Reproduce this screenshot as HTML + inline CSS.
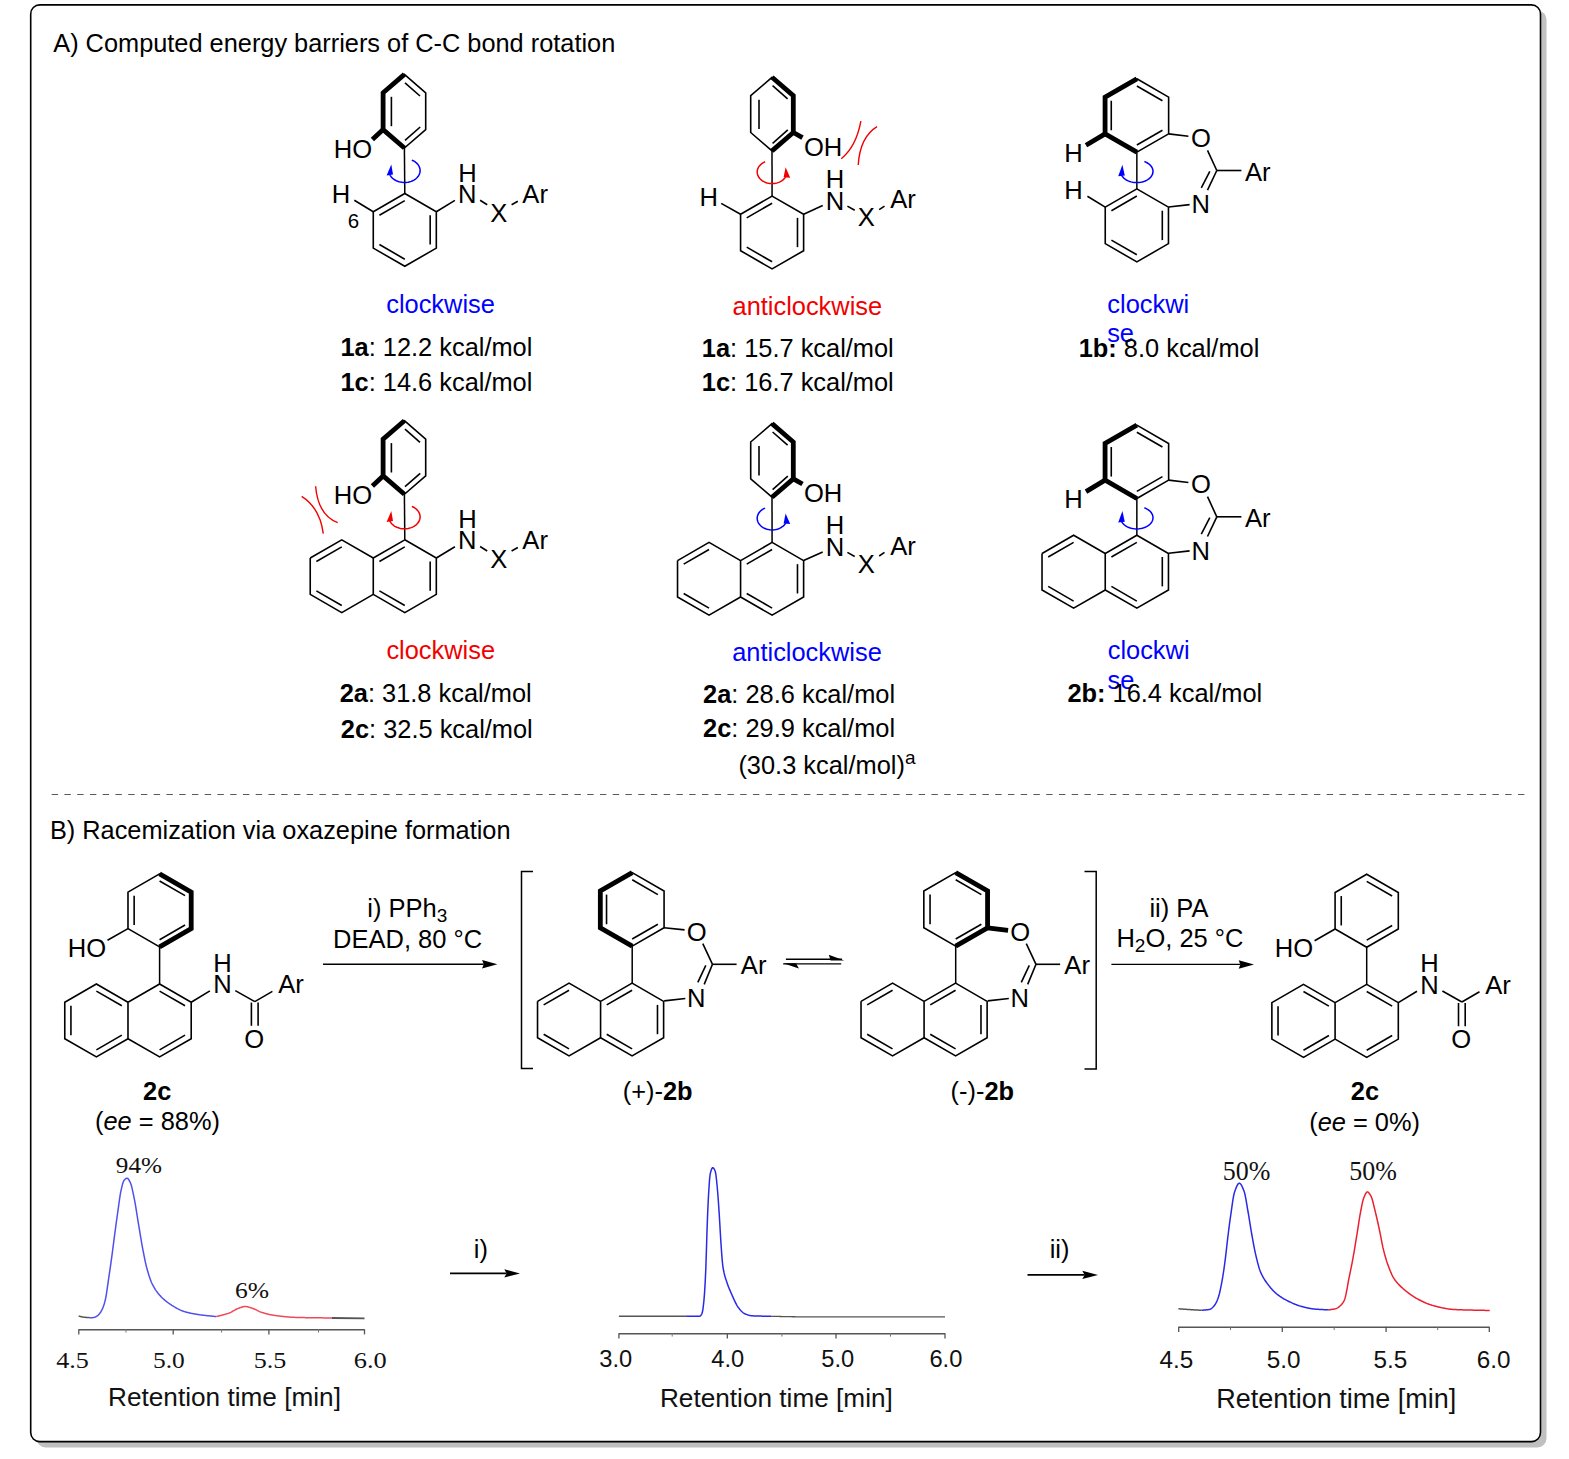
<!DOCTYPE html>
<html><head><meta charset="utf-8"><title>Figure</title>
<style>
html,body{margin:0;padding:0;background:#fff;}
body{width:1569px;height:1459px;overflow:hidden;}
svg{position:absolute;left:0;top:0;display:block;}
text{font-family:"Liberation Sans",sans-serif;}
</style></head><body>
<svg width="1569" height="1459" viewBox="0 0 1569 1459">
<rect x="36.5" y="10.5" width="1510" height="1437" rx="9" ry="9" fill="#c0c0c0"/>
<rect x="30.7" y="4.9" width="1509.8" height="1436.7" rx="9" ry="9" fill="#fff" stroke="#000" stroke-width="1.6"/>
<text x="53.24" y="52.1" font-size="25.35" fill="#000" text-anchor="start">A) Computed energy barriers of C-C bond rotation</text>
<text x="49.91" y="839.3" font-size="25.35" fill="#000" text-anchor="start">B) Racemization via oxazepine formation</text>
<line x1="51.7" y1="794.5" x2="1527" y2="794.5" stroke="#5a5a5a" stroke-width="1" stroke-dasharray="6.4 6.35"/>
<path d="M404.4 74.4 L425.7 92.8 L425.7 129.6 L404.4 148 L383.1 129.6 L383.1 92.8 Z" fill="none" stroke="#000" stroke-width="1.6" stroke-linejoin="miter" stroke-linecap="butt" stroke-miterlimit="10"/>
<line x1="391.4" y1="96.8" x2="391.4" y2="126.2" stroke="#000" stroke-width="1.6" stroke-linecap="butt"/>
<line x1="405" y1="82.8" x2="420" y2="96" stroke="#000" stroke-width="1.6" stroke-linecap="butt"/>
<line x1="405" y1="140.4" x2="420.2" y2="127" stroke="#000" stroke-width="1.6" stroke-linecap="butt"/>
<path d="M404.4 74.4 L383.1 92.8 L383.1 129.6 L404.4 148" fill="none" stroke="#000" stroke-width="4.8" stroke-linejoin="miter" stroke-linecap="butt" stroke-miterlimit="10"/>
<path d="M383.1 129.6 L372.4 139.6" fill="none" stroke="#000" stroke-width="4.8" stroke-linejoin="miter" stroke-linecap="butt" stroke-miterlimit="10"/>
<text x="333.69" y="158" font-size="25.6" fill="#000" text-anchor="start">HO</text>
<line x1="404.4" y1="148" x2="404.8" y2="193.4" stroke="#000" stroke-width="1.5" stroke-linecap="butt"/>
<path d="M404.8 193.5 L436.32 211.7 L436.32 248.1 L404.8 266.3 L373.28 248.1 L373.28 211.7 Z" fill="none" stroke="#000" stroke-width="1.6" stroke-linejoin="miter" stroke-linecap="butt" stroke-miterlimit="10"/>
<line x1="379.42" y1="215.25" x2="404.8" y2="200.6" stroke="#000" stroke-width="1.6" stroke-linecap="butt"/>
<line x1="430.18" y1="215.25" x2="430.18" y2="244.55" stroke="#000" stroke-width="1.6" stroke-linecap="butt"/>
<line x1="379.42" y1="244.55" x2="404.8" y2="259.2" stroke="#000" stroke-width="1.6" stroke-linecap="butt"/>
<line x1="373.28" y1="211.7" x2="354.3" y2="200.3" stroke="#000" stroke-width="1.6" stroke-linecap="butt"/>
<text x="331.85" y="203.4" font-size="25.6" fill="#000" text-anchor="start">H</text>
<text x="347.78" y="228" font-size="20.5" fill="#000" text-anchor="start">6</text>
<line x1="436.32" y1="211.7" x2="454.9" y2="200.4" stroke="#000" stroke-width="1.6" stroke-linecap="butt"/>
<text x="458.05" y="202.9" font-size="25.6" fill="#000" text-anchor="start">N</text>
<text x="458.15" y="181.7" font-size="25.6" fill="#000" text-anchor="start">H</text>
<line x1="480.1" y1="200.2" x2="487.2" y2="204.7" stroke="#000" stroke-width="1.6" stroke-linecap="butt"/>
<text x="490.16" y="221.7" font-size="25.6" fill="#000" text-anchor="start">X</text>
<line x1="511.6" y1="204.7" x2="517.8" y2="201.2" stroke="#000" stroke-width="1.6" stroke-linecap="butt"/>
<text x="522.34" y="203" font-size="25.6" fill="#000" text-anchor="start">Ar</text>
<path d="M411.82 160.09 L413.17 160.71 L414.42 161.42 L415.58 162.22 L416.62 163.11 L417.55 164.08 L418.34 165.11 L418.99 166.19 L419.5 167.32 L419.85 168.48 L420.05 169.67 L420.1 170.86 L419.98 172.05 L419.72 173.23 L419.29 174.38 L418.72 175.49 L418.01 176.55 L417.16 177.55 L416.18 178.49 L415.09 179.34 L413.89 180.1 L412.59 180.77 L411.22 181.34 L409.77 181.8 L408.27 182.15 L406.74 182.38 L405.18 182.49 L403.62 182.48 L402.06 182.35 L400.53 182.11 L399.04 181.75 L397.6 181.27 L396.23 180.69 L394.95 180.01 L393.76 179.23 L392.68 178.37 L391.72 177.43 L390.89 176.41 L390.19 175.35 L389.64 174.23 L389.24 173.07" fill="none" stroke="#0000ff" stroke-width="1.5" stroke-linejoin="round" stroke-linecap="butt" stroke-miterlimit="10"/>
<path d="M391.3 164.6 L386.6 175.6 L393 174.6 Z" fill="#0000ff" stroke="none"/>
<path d="M772 77.3 L793.3 95.7 L793.3 132.5 L772 150.9 L750.7 132.5 L750.7 95.7 Z" fill="none" stroke="#000" stroke-width="1.6" stroke-linejoin="miter" stroke-linecap="butt" stroke-miterlimit="10"/>
<line x1="759" y1="99.7" x2="759" y2="129.1" stroke="#000" stroke-width="1.6" stroke-linecap="butt"/>
<line x1="772.6" y1="85.7" x2="787.6" y2="98.9" stroke="#000" stroke-width="1.6" stroke-linecap="butt"/>
<line x1="772.6" y1="143.3" x2="787.8" y2="129.9" stroke="#000" stroke-width="1.6" stroke-linecap="butt"/>
<path d="M772 77.3 L793.3 95.7 L793.3 132.5 L772 150.9" fill="none" stroke="#000" stroke-width="4.8" stroke-linejoin="miter" stroke-linecap="butt" stroke-miterlimit="10"/>
<path d="M793.3 132.5 L802.5 137.7" fill="none" stroke="#000" stroke-width="4.8" stroke-linejoin="miter" stroke-linecap="butt" stroke-miterlimit="10"/>
<text x="803.88" y="155.6" font-size="25.6" fill="#000" text-anchor="start">OH</text>
<line x1="772" y1="150.9" x2="772.1" y2="196.2" stroke="#000" stroke-width="1.5" stroke-linecap="butt"/>
<path d="M772.1 196.1 L803.62 214.3 L803.62 250.7 L772.1 268.9 L740.58 250.7 L740.58 214.3 Z" fill="none" stroke="#000" stroke-width="1.6" stroke-linejoin="miter" stroke-linecap="butt" stroke-miterlimit="10"/>
<line x1="746.72" y1="217.85" x2="772.1" y2="203.2" stroke="#000" stroke-width="1.6" stroke-linecap="butt"/>
<line x1="797.48" y1="217.85" x2="797.48" y2="247.15" stroke="#000" stroke-width="1.6" stroke-linecap="butt"/>
<line x1="746.72" y1="247.15" x2="772.1" y2="261.8" stroke="#000" stroke-width="1.6" stroke-linecap="butt"/>
<line x1="740.58" y1="214.3" x2="721.2" y2="203.4" stroke="#000" stroke-width="1.6" stroke-linecap="butt"/>
<text x="699.45" y="205.8" font-size="25.6" fill="#000" text-anchor="start">H</text>
<line x1="803.62" y1="214.3" x2="822.7" y2="205.6" stroke="#000" stroke-width="1.6" stroke-linecap="butt"/>
<text x="825.65" y="209.7" font-size="25.6" fill="#000" text-anchor="start">N</text>
<text x="825.75" y="188" font-size="25.6" fill="#000" text-anchor="start">H</text>
<line x1="847.4" y1="206.1" x2="854.7" y2="210.2" stroke="#000" stroke-width="1.6" stroke-linecap="butt"/>
<text x="857.76" y="226.2" font-size="25.6" fill="#000" text-anchor="start">X</text>
<line x1="879.2" y1="209.7" x2="884.5" y2="206.1" stroke="#000" stroke-width="1.6" stroke-linecap="butt"/>
<text x="890.14" y="208.2" font-size="25.6" fill="#000" text-anchor="start">Ar</text>
<path d="M765.1 161.76 L763.82 162.35 L762.62 163.05 L761.52 163.83 L760.52 164.7 L759.64 165.64 L758.88 166.64 L758.26 167.7 L757.78 168.8 L757.44 169.94 L757.25 171.09 L757.2 172.25 L757.31 173.41 L757.57 174.56 L757.97 175.68 L758.51 176.76 L759.2 177.8 L760.01 178.78 L760.94 179.69 L761.99 180.52 L763.13 181.26 L764.37 181.92 L765.69 182.47 L767.07 182.92 L768.5 183.26 L769.96 183.48 L771.45 183.59 L772.94 183.58 L774.43 183.46 L775.89 183.22 L777.32 182.87 L778.69 182.4 L780 181.84 L781.22 181.17 L782.36 180.41 L783.39 179.57 L784.31 178.65 L785.1 177.67 L785.76 176.63 L786.29 175.54 L786.67 174.41" fill="none" stroke="#f20000" stroke-width="1.5" stroke-linejoin="round" stroke-linecap="butt" stroke-miterlimit="10"/>
<path d="M785.6 167.2 L783.6 177.2 L790.2 177.8 Z" fill="#f20000" stroke="none"/>
<path d="M841.3 158.7 Q856 147 860.9 121.2" fill="none" stroke="#f20000" stroke-width="1.4"/>
<path d="M858.2 165 Q860 137 877 126.6" fill="none" stroke="#f20000" stroke-width="1.4"/>
<path d="M1136.85 78.8 L1168.63 97.15 L1168.63 133.85 L1136.85 152.2 L1105.07 133.85 L1105.07 97.15 Z" fill="none" stroke="#000" stroke-width="1.6" stroke-linejoin="miter" stroke-linecap="butt" stroke-miterlimit="10"/>
<line x1="1111.26" y1="100.73" x2="1111.26" y2="130.27" stroke="#000" stroke-width="1.6" stroke-linecap="butt"/>
<line x1="1136.85" y1="85.96" x2="1162.44" y2="100.73" stroke="#000" stroke-width="1.6" stroke-linecap="butt"/>
<line x1="1162.44" y1="130.27" x2="1136.85" y2="145.04" stroke="#000" stroke-width="1.6" stroke-linecap="butt"/>
<path d="M1136.85 78.8 L1105.07 97.15 L1105.07 133.85 L1136.85 152.2" fill="none" stroke="#000" stroke-width="4.8" stroke-linejoin="miter" stroke-linecap="butt" stroke-miterlimit="10"/>
<path d="M1105.07 133.85 L1086 145.3" fill="none" stroke="#000" stroke-width="4.8" stroke-linejoin="miter" stroke-linecap="butt" stroke-miterlimit="10"/>
<text x="1064.15" y="162" font-size="25.6" fill="#000" text-anchor="start">H</text>
<line x1="1168.63" y1="133.85" x2="1188.4" y2="136.2" stroke="#000" stroke-width="1.6" stroke-linecap="butt"/>
<text x="1190.95" y="146.9" font-size="25.6" fill="#000" text-anchor="start">O</text>
<line x1="1207.5" y1="150.3" x2="1216.8" y2="170.5" stroke="#000" stroke-width="1.6" stroke-linecap="butt"/>
<line x1="1216.8" y1="170.5" x2="1241.4" y2="170.5" stroke="#000" stroke-width="1.6" stroke-linecap="butt"/>
<text x="1245.04" y="180.7" font-size="25.6" fill="#000" text-anchor="start">Ar</text>
<line x1="1216.8" y1="170.5" x2="1207.5" y2="190.2" stroke="#000" stroke-width="1.6" stroke-linecap="butt"/>
<line x1="1209.8" y1="171.4" x2="1201.3" y2="187.9" stroke="#000" stroke-width="1.6" stroke-linecap="butt"/>
<text x="1191.45" y="213.2" font-size="25.6" fill="#000" text-anchor="start">N</text>
<line x1="1189.6" y1="204.6" x2="1168.6" y2="207" stroke="#000" stroke-width="1.6" stroke-linecap="butt"/>
<line x1="1136.85" y1="152.2" x2="1136.85" y2="188.9" stroke="#000" stroke-width="1.5" stroke-linecap="butt"/>
<path d="M1136.85 188.9 L1168.46 207.15 L1168.46 243.65 L1136.85 261.9 L1105.24 243.65 L1105.24 207.15 Z" fill="none" stroke="#000" stroke-width="1.6" stroke-linejoin="miter" stroke-linecap="butt" stroke-miterlimit="10"/>
<line x1="1111.4" y1="210.71" x2="1136.85" y2="196.02" stroke="#000" stroke-width="1.6" stroke-linecap="butt"/>
<line x1="1162.3" y1="210.71" x2="1162.3" y2="240.09" stroke="#000" stroke-width="1.6" stroke-linecap="butt"/>
<line x1="1111.4" y1="240.09" x2="1136.85" y2="254.78" stroke="#000" stroke-width="1.6" stroke-linecap="butt"/>
<line x1="1105.24" y1="207.15" x2="1087.4" y2="196.2" stroke="#000" stroke-width="1.6" stroke-linecap="butt"/>
<text x="1064.25" y="198.6" font-size="25.6" fill="#000" text-anchor="start">H</text>
<path d="M1144.41 161.51 L1145.8 162.09 L1147.1 162.76 L1148.31 163.52 L1149.39 164.35 L1150.35 165.26 L1151.17 166.23 L1151.85 167.25 L1152.37 168.31 L1152.74 169.41 L1152.95 170.52 L1153 171.64 L1152.88 172.76 L1152.6 173.87 L1152.16 174.95 L1151.57 176 L1150.83 177 L1149.95 177.94 L1148.93 178.82 L1147.8 179.62 L1146.55 180.34 L1145.2 180.98 L1143.77 181.51 L1142.27 181.94 L1140.72 182.27 L1139.12 182.48 L1137.51 182.59 L1135.88 182.58 L1134.27 182.46 L1132.68 182.23 L1131.13 181.89 L1129.63 181.44 L1128.22 180.9 L1126.88 180.26 L1125.65 179.52 L1124.53 178.71 L1123.53 177.82 L1122.67 176.87 L1121.94 175.87 L1121.37 174.81 L1120.95 173.73" fill="none" stroke="#0000ff" stroke-width="1.5" stroke-linejoin="round" stroke-linecap="butt" stroke-miterlimit="10"/>
<path d="M1122.4 164.8 L1118.2 176.2 L1124.8 175.4 Z" fill="#0000ff" stroke="none"/>
<path d="M404.4 420.7 L425.7 439.1 L425.7 475.9 L404.4 494.3 L383.1 475.9 L383.1 439.1 Z" fill="none" stroke="#000" stroke-width="1.6" stroke-linejoin="miter" stroke-linecap="butt" stroke-miterlimit="10"/>
<line x1="391.4" y1="443.1" x2="391.4" y2="472.5" stroke="#000" stroke-width="1.6" stroke-linecap="butt"/>
<line x1="405" y1="429.1" x2="420" y2="442.3" stroke="#000" stroke-width="1.6" stroke-linecap="butt"/>
<line x1="405" y1="486.7" x2="420.2" y2="473.3" stroke="#000" stroke-width="1.6" stroke-linecap="butt"/>
<path d="M404.4 420.7 L383.1 439.1 L383.1 475.9 L404.4 494.3" fill="none" stroke="#000" stroke-width="4.8" stroke-linejoin="miter" stroke-linecap="butt" stroke-miterlimit="10"/>
<path d="M383.1 475.9 L372.4 485.9" fill="none" stroke="#000" stroke-width="4.8" stroke-linejoin="miter" stroke-linecap="butt" stroke-miterlimit="10"/>
<text x="333.69" y="504.3" font-size="25.6" fill="#000" text-anchor="start">HO</text>
<line x1="404.4" y1="494.3" x2="404.8" y2="539.7" stroke="#000" stroke-width="1.5" stroke-linecap="butt"/>
<path d="M404.8 539.8 L436.32 558 L436.32 594.4 L404.8 612.6 L373.28 594.4 L373.28 558 Z" fill="none" stroke="#000" stroke-width="1.6" stroke-linejoin="miter" stroke-linecap="butt" stroke-miterlimit="10"/>
<line x1="379.42" y1="561.55" x2="404.8" y2="546.9" stroke="#000" stroke-width="1.6" stroke-linecap="butt"/>
<line x1="430.18" y1="561.55" x2="430.18" y2="590.85" stroke="#000" stroke-width="1.6" stroke-linecap="butt"/>
<line x1="379.42" y1="590.85" x2="404.8" y2="605.5" stroke="#000" stroke-width="1.6" stroke-linecap="butt"/>
<path d="M310.23 558 L341.75 539.8 L373.28 558" fill="none" stroke="#000" stroke-width="1.6" stroke-linejoin="miter" stroke-linecap="butt" stroke-miterlimit="10"/>
<path d="M373.28 594.4 L341.75 612.6 L310.23 594.4 L310.23 558" fill="none" stroke="#000" stroke-width="1.6" stroke-linejoin="miter" stroke-linecap="butt" stroke-miterlimit="10"/>
<line x1="316.38" y1="561.55" x2="341.75" y2="546.9" stroke="#000" stroke-width="1.6" stroke-linecap="butt"/>
<line x1="316.38" y1="590.85" x2="341.75" y2="605.5" stroke="#000" stroke-width="1.6" stroke-linecap="butt"/>
<line x1="436.32" y1="558" x2="454.9" y2="546.7" stroke="#000" stroke-width="1.6" stroke-linecap="butt"/>
<text x="458.05" y="549.2" font-size="25.6" fill="#000" text-anchor="start">N</text>
<text x="458.15" y="528" font-size="25.6" fill="#000" text-anchor="start">H</text>
<line x1="480.1" y1="546.5" x2="487.2" y2="551" stroke="#000" stroke-width="1.6" stroke-linecap="butt"/>
<text x="490.16" y="568" font-size="25.6" fill="#000" text-anchor="start">X</text>
<line x1="511.6" y1="551" x2="517.8" y2="547.5" stroke="#000" stroke-width="1.6" stroke-linecap="butt"/>
<text x="522.34" y="549.3" font-size="25.6" fill="#000" text-anchor="start">Ar</text>
<path d="M411.82 506.39 L413.17 507.01 L414.42 507.72 L415.58 508.52 L416.62 509.41 L417.55 510.38 L418.34 511.41 L418.99 512.49 L419.5 513.62 L419.85 514.78 L420.05 515.97 L420.1 517.16 L419.98 518.35 L419.72 519.53 L419.29 520.68 L418.72 521.79 L418.01 522.85 L417.16 523.85 L416.18 524.79 L415.09 525.64 L413.89 526.4 L412.59 527.07 L411.22 527.64 L409.77 528.1 L408.27 528.45 L406.74 528.68 L405.18 528.79 L403.62 528.78 L402.06 528.65 L400.53 528.41 L399.04 528.05 L397.6 527.57 L396.23 526.99 L394.95 526.31 L393.76 525.53 L392.68 524.67 L391.72 523.73 L390.89 522.71 L390.19 521.65 L389.64 520.53 L389.24 519.37" fill="none" stroke="#f20000" stroke-width="1.5" stroke-linejoin="round" stroke-linecap="butt" stroke-miterlimit="10"/>
<path d="M391.3 510.9 L386.6 521.9 L393 520.9 Z" fill="#f20000" stroke="none"/>
<path d="M301.7 496.3 Q320 508 323.3 533.7" fill="none" stroke="#f20000" stroke-width="1.4"/>
<path d="M315.6 486.2 Q318 515 337.7 522.7" fill="none" stroke="#f20000" stroke-width="1.4"/>
<path d="M772 423.6 L793.3 442 L793.3 478.8 L772 497.2 L750.7 478.8 L750.7 442 Z" fill="none" stroke="#000" stroke-width="1.6" stroke-linejoin="miter" stroke-linecap="butt" stroke-miterlimit="10"/>
<line x1="759" y1="446" x2="759" y2="475.4" stroke="#000" stroke-width="1.6" stroke-linecap="butt"/>
<line x1="772.6" y1="432" x2="787.6" y2="445.2" stroke="#000" stroke-width="1.6" stroke-linecap="butt"/>
<line x1="772.6" y1="489.6" x2="787.8" y2="476.2" stroke="#000" stroke-width="1.6" stroke-linecap="butt"/>
<path d="M772 423.6 L793.3 442 L793.3 478.8 L772 497.2" fill="none" stroke="#000" stroke-width="4.8" stroke-linejoin="miter" stroke-linecap="butt" stroke-miterlimit="10"/>
<path d="M793.3 478.8 L802.5 484" fill="none" stroke="#000" stroke-width="4.8" stroke-linejoin="miter" stroke-linecap="butt" stroke-miterlimit="10"/>
<text x="803.88" y="501.9" font-size="25.6" fill="#000" text-anchor="start">OH</text>
<line x1="772" y1="497.2" x2="772.1" y2="542.5" stroke="#000" stroke-width="1.5" stroke-linecap="butt"/>
<path d="M772.1 542.4 L803.62 560.6 L803.62 597 L772.1 615.2 L740.58 597 L740.58 560.6 Z" fill="none" stroke="#000" stroke-width="1.6" stroke-linejoin="miter" stroke-linecap="butt" stroke-miterlimit="10"/>
<line x1="746.72" y1="564.15" x2="772.1" y2="549.5" stroke="#000" stroke-width="1.6" stroke-linecap="butt"/>
<line x1="797.48" y1="564.15" x2="797.48" y2="593.45" stroke="#000" stroke-width="1.6" stroke-linecap="butt"/>
<line x1="746.72" y1="593.45" x2="772.1" y2="608.1" stroke="#000" stroke-width="1.6" stroke-linecap="butt"/>
<path d="M677.53 560.6 L709.05 542.4 L740.58 560.6" fill="none" stroke="#000" stroke-width="1.6" stroke-linejoin="miter" stroke-linecap="butt" stroke-miterlimit="10"/>
<path d="M740.58 597 L709.05 615.2 L677.53 597 L677.53 560.6" fill="none" stroke="#000" stroke-width="1.6" stroke-linejoin="miter" stroke-linecap="butt" stroke-miterlimit="10"/>
<line x1="683.68" y1="564.15" x2="709.05" y2="549.5" stroke="#000" stroke-width="1.6" stroke-linecap="butt"/>
<line x1="683.68" y1="593.45" x2="709.05" y2="608.1" stroke="#000" stroke-width="1.6" stroke-linecap="butt"/>
<line x1="803.62" y1="560.6" x2="822.7" y2="551.9" stroke="#000" stroke-width="1.6" stroke-linecap="butt"/>
<text x="825.65" y="556" font-size="25.6" fill="#000" text-anchor="start">N</text>
<text x="825.75" y="534.3" font-size="25.6" fill="#000" text-anchor="start">H</text>
<line x1="847.4" y1="552.4" x2="854.7" y2="556.5" stroke="#000" stroke-width="1.6" stroke-linecap="butt"/>
<text x="857.76" y="572.5" font-size="25.6" fill="#000" text-anchor="start">X</text>
<line x1="879.2" y1="556" x2="884.5" y2="552.4" stroke="#000" stroke-width="1.6" stroke-linecap="butt"/>
<text x="890.14" y="554.5" font-size="25.6" fill="#000" text-anchor="start">Ar</text>
<path d="M765.1 508.06 L763.82 508.65 L762.62 509.35 L761.52 510.13 L760.52 511 L759.64 511.94 L758.88 512.94 L758.26 514 L757.78 515.1 L757.44 516.24 L757.25 517.39 L757.2 518.55 L757.31 519.71 L757.57 520.86 L757.97 521.98 L758.51 523.06 L759.2 524.1 L760.01 525.08 L760.94 525.99 L761.99 526.82 L763.13 527.56 L764.37 528.22 L765.69 528.77 L767.07 529.22 L768.5 529.56 L769.96 529.78 L771.45 529.89 L772.94 529.88 L774.43 529.76 L775.89 529.52 L777.32 529.17 L778.69 528.7 L780 528.14 L781.22 527.47 L782.36 526.71 L783.39 525.87 L784.31 524.95 L785.1 523.97 L785.76 522.93 L786.29 521.84 L786.67 520.71" fill="none" stroke="#0000ff" stroke-width="1.5" stroke-linejoin="round" stroke-linecap="butt" stroke-miterlimit="10"/>
<path d="M785.6 513.5 L783.6 523.5 L790.2 524.1 Z" fill="#0000ff" stroke="none"/>
<path d="M1136.85 425.1 L1168.63 443.45 L1168.63 480.15 L1136.85 498.5 L1105.07 480.15 L1105.07 443.45 Z" fill="none" stroke="#000" stroke-width="1.6" stroke-linejoin="miter" stroke-linecap="butt" stroke-miterlimit="10"/>
<line x1="1111.26" y1="447.03" x2="1111.26" y2="476.57" stroke="#000" stroke-width="1.6" stroke-linecap="butt"/>
<line x1="1136.85" y1="432.26" x2="1162.44" y2="447.03" stroke="#000" stroke-width="1.6" stroke-linecap="butt"/>
<line x1="1162.44" y1="476.57" x2="1136.85" y2="491.34" stroke="#000" stroke-width="1.6" stroke-linecap="butt"/>
<path d="M1136.85 425.1 L1105.07 443.45 L1105.07 480.15 L1136.85 498.5" fill="none" stroke="#000" stroke-width="4.8" stroke-linejoin="miter" stroke-linecap="butt" stroke-miterlimit="10"/>
<path d="M1105.07 480.15 L1086 491.6" fill="none" stroke="#000" stroke-width="4.8" stroke-linejoin="miter" stroke-linecap="butt" stroke-miterlimit="10"/>
<text x="1064.15" y="508.3" font-size="25.6" fill="#000" text-anchor="start">H</text>
<line x1="1168.63" y1="480.15" x2="1188.4" y2="482.5" stroke="#000" stroke-width="1.6" stroke-linecap="butt"/>
<text x="1190.95" y="493.2" font-size="25.6" fill="#000" text-anchor="start">O</text>
<line x1="1207.5" y1="496.6" x2="1216.8" y2="516.8" stroke="#000" stroke-width="1.6" stroke-linecap="butt"/>
<line x1="1216.8" y1="516.8" x2="1241.4" y2="516.8" stroke="#000" stroke-width="1.6" stroke-linecap="butt"/>
<text x="1245.04" y="527" font-size="25.6" fill="#000" text-anchor="start">Ar</text>
<line x1="1216.8" y1="516.8" x2="1207.5" y2="536.5" stroke="#000" stroke-width="1.6" stroke-linecap="butt"/>
<line x1="1209.8" y1="517.7" x2="1201.3" y2="534.2" stroke="#000" stroke-width="1.6" stroke-linecap="butt"/>
<text x="1191.45" y="559.5" font-size="25.6" fill="#000" text-anchor="start">N</text>
<line x1="1189.6" y1="550.9" x2="1168.6" y2="553.3" stroke="#000" stroke-width="1.6" stroke-linecap="butt"/>
<line x1="1136.85" y1="498.5" x2="1136.85" y2="535.2" stroke="#000" stroke-width="1.5" stroke-linecap="butt"/>
<path d="M1136.85 535.2 L1168.46 553.45 L1168.46 589.95 L1136.85 608.2 L1105.24 589.95 L1105.24 553.45 Z" fill="none" stroke="#000" stroke-width="1.6" stroke-linejoin="miter" stroke-linecap="butt" stroke-miterlimit="10"/>
<line x1="1111.4" y1="557.01" x2="1136.85" y2="542.32" stroke="#000" stroke-width="1.6" stroke-linecap="butt"/>
<line x1="1162.3" y1="557.01" x2="1162.3" y2="586.39" stroke="#000" stroke-width="1.6" stroke-linecap="butt"/>
<line x1="1111.4" y1="586.39" x2="1136.85" y2="601.08" stroke="#000" stroke-width="1.6" stroke-linecap="butt"/>
<path d="M1042.02 553.45 L1073.63 535.2 L1105.24 553.45" fill="none" stroke="#000" stroke-width="1.6" stroke-linejoin="miter" stroke-linecap="butt" stroke-miterlimit="10"/>
<path d="M1105.24 589.95 L1073.63 608.2 L1042.02 589.95 L1042.02 553.45" fill="none" stroke="#000" stroke-width="1.6" stroke-linejoin="miter" stroke-linecap="butt" stroke-miterlimit="10"/>
<line x1="1048.18" y1="557.01" x2="1073.63" y2="542.32" stroke="#000" stroke-width="1.6" stroke-linecap="butt"/>
<line x1="1048.18" y1="586.39" x2="1073.63" y2="601.08" stroke="#000" stroke-width="1.6" stroke-linecap="butt"/>
<path d="M1144.41 507.81 L1145.8 508.39 L1147.1 509.06 L1148.31 509.82 L1149.39 510.65 L1150.35 511.56 L1151.17 512.53 L1151.85 513.55 L1152.37 514.61 L1152.74 515.71 L1152.95 516.82 L1153 517.94 L1152.88 519.06 L1152.6 520.17 L1152.16 521.25 L1151.57 522.3 L1150.83 523.3 L1149.95 524.24 L1148.93 525.12 L1147.8 525.92 L1146.55 526.64 L1145.2 527.28 L1143.77 527.81 L1142.27 528.24 L1140.72 528.57 L1139.12 528.78 L1137.51 528.89 L1135.88 528.88 L1134.27 528.76 L1132.68 528.53 L1131.13 528.19 L1129.63 527.74 L1128.22 527.2 L1126.88 526.56 L1125.65 525.82 L1124.53 525.01 L1123.53 524.12 L1122.67 523.17 L1121.94 522.17 L1121.37 521.11 L1120.95 520.03" fill="none" stroke="#0000ff" stroke-width="1.5" stroke-linejoin="round" stroke-linecap="butt" stroke-miterlimit="10"/>
<path d="M1122.4 511.1 L1118.2 522.5 L1124.8 521.7 Z" fill="#0000ff" stroke="none"/>
<text x="386.22" y="313.3" font-size="25.4" fill="#0000ff" text-anchor="start">clockwise</text>
<text x="732.53" y="314.8" font-size="25.4" fill="#f20000" text-anchor="start">anticlockwise</text>
<text x="1107.32" y="312.8" font-size="25.4" fill="#0000ff" text-anchor="start">clockwi</text>
<text x="1107.13" y="341.8" font-size="25.4" fill="#0000ff" text-anchor="start">se</text>
<text x="340.41" y="356.3" font-size="25.4" fill="#000" text-anchor="start"><tspan font-weight="bold">1a</tspan>: 12.2 kcal/mol</text>
<text x="340.41" y="391.3" font-size="25.4" fill="#000" text-anchor="start"><tspan font-weight="bold">1c</tspan>: 14.6 kcal/mol</text>
<text x="701.81" y="357.1" font-size="25.4" fill="#000" text-anchor="start"><tspan font-weight="bold">1a</tspan>: 15.7 kcal/mol</text>
<text x="701.81" y="391.3" font-size="25.4" fill="#000" text-anchor="start"><tspan font-weight="bold">1c</tspan>: 16.7 kcal/mol</text>
<text x="1078.71" y="356.5" font-size="25.4" fill="#000" text-anchor="start"><tspan font-weight="bold">1b:</tspan> 8.0 kcal/mol</text>
<text x="386.42" y="659.4" font-size="25.4" fill="#f20000" text-anchor="start">clockwise</text>
<text x="732.23" y="660.5" font-size="25.4" fill="#0000ff" text-anchor="start">anticlockwise</text>
<text x="1107.72" y="659" font-size="25.4" fill="#0000ff" text-anchor="start">clockwi</text>
<text x="1107.53" y="688.9" font-size="25.4" fill="#0000ff" text-anchor="start">se</text>
<text x="339.71" y="702.3" font-size="25.4" fill="#000" text-anchor="start"><tspan font-weight="bold">2a</tspan>: 31.8 kcal/mol</text>
<text x="340.81" y="737.5" font-size="25.4" fill="#000" text-anchor="start"><tspan font-weight="bold">2c</tspan>: 32.5 kcal/mol</text>
<text x="703.11" y="703" font-size="25.4" fill="#000" text-anchor="start"><tspan font-weight="bold">2a</tspan>: 28.6 kcal/mol</text>
<text x="703.11" y="737.2" font-size="25.4" fill="#000" text-anchor="start"><tspan font-weight="bold">2c</tspan>: 29.9 kcal/mol</text>
<text x="738.41" y="773.8" font-size="25.4" fill="#000" text-anchor="start">(30.3 kcal/mol)<tspan font-size="19" dy="-9.5">a</tspan></text>
<text x="1067.41" y="701.7" font-size="25.4" fill="#000" text-anchor="start"><tspan font-weight="bold">2b:</tspan> 16.4 kcal/mol</text>
<path d="M159.6 873.85 L191.21 892.1 L191.21 928.6 L159.6 946.85 L127.99 928.6 L127.99 892.1 Z" fill="none" stroke="#000" stroke-width="1.6" stroke-linejoin="miter" stroke-linecap="butt" stroke-miterlimit="10"/>
<line x1="134.15" y1="895.66" x2="134.15" y2="925.04" stroke="#000" stroke-width="1.6" stroke-linecap="butt"/>
<line x1="159.6" y1="880.97" x2="185.05" y2="895.66" stroke="#000" stroke-width="1.6" stroke-linecap="butt"/>
<line x1="185.05" y1="925.04" x2="159.6" y2="939.73" stroke="#000" stroke-width="1.6" stroke-linecap="butt"/>
<path d="M159.6 873.85 L191.21 892.1 L191.21 928.6 L159.6 946.85" fill="none" stroke="#000" stroke-width="4.8" stroke-linejoin="miter" stroke-linecap="butt" stroke-miterlimit="10"/>
<line x1="127.99" y1="928.6" x2="107.5" y2="940.3" stroke="#000" stroke-width="1.6" stroke-linecap="butt"/>
<text x="67.69" y="956.6" font-size="25.6" fill="#000" text-anchor="start">HO</text>
<line x1="159.6" y1="946.85" x2="159.6" y2="984" stroke="#000" stroke-width="1.5" stroke-linecap="butt"/>
<path d="M159.6 983.95 L191.21 1002.2 L191.21 1038.7 L159.6 1056.95 L127.99 1038.7 L127.99 1002.2 Z" fill="none" stroke="#000" stroke-width="1.6" stroke-linejoin="miter" stroke-linecap="butt" stroke-miterlimit="10"/>
<line x1="159.6" y1="991.07" x2="185.05" y2="1005.76" stroke="#000" stroke-width="1.6" stroke-linecap="butt"/>
<line x1="185.05" y1="1035.14" x2="159.6" y2="1049.83" stroke="#000" stroke-width="1.6" stroke-linecap="butt"/>
<path d="M127.99 1002.2 L96.38 983.95 L64.77 1002.2 L64.77 1038.7 L96.38 1056.95 L127.99 1038.7" fill="none" stroke="#000" stroke-width="1.6" stroke-linejoin="miter" stroke-linecap="butt" stroke-miterlimit="10"/>
<line x1="96.38" y1="991.07" x2="121.83" y2="1005.76" stroke="#000" stroke-width="1.6" stroke-linecap="butt"/>
<line x1="70.93" y1="1005.76" x2="70.93" y2="1035.14" stroke="#000" stroke-width="1.6" stroke-linecap="butt"/>
<line x1="96.38" y1="1049.83" x2="121.83" y2="1035.14" stroke="#000" stroke-width="1.6" stroke-linecap="butt"/>
<line x1="191.21" y1="1002.2" x2="209.9" y2="990.9" stroke="#000" stroke-width="1.6" stroke-linecap="butt"/>
<text x="213.15" y="993.3" font-size="25.6" fill="#000" text-anchor="start">N</text>
<text x="213.15" y="971.9" font-size="25.6" fill="#000" text-anchor="start">H</text>
<line x1="235.3" y1="990.6" x2="254.8" y2="1001.6" stroke="#000" stroke-width="1.6" stroke-linecap="butt"/>
<line x1="254.8" y1="1001.6" x2="272.4" y2="991.4" stroke="#000" stroke-width="1.6" stroke-linecap="butt"/>
<text x="278.14" y="993.3" font-size="25.6" fill="#000" text-anchor="start">Ar</text>
<line x1="251.4" y1="1002.6" x2="251.4" y2="1025.8" stroke="#000" stroke-width="1.6" stroke-linecap="butt"/>
<line x1="258.1" y1="1002.6" x2="258.1" y2="1025.8" stroke="#000" stroke-width="1.6" stroke-linecap="butt"/>
<text x="244.15" y="1047.9" font-size="25.6" fill="#000" text-anchor="start">O</text>
<path d="M1366.7 874.25 L1398.31 892.5 L1398.31 929 L1366.7 947.25 L1335.09 929 L1335.09 892.5 Z" fill="none" stroke="#000" stroke-width="1.6" stroke-linejoin="miter" stroke-linecap="butt" stroke-miterlimit="10"/>
<line x1="1341.25" y1="896.06" x2="1341.25" y2="925.44" stroke="#000" stroke-width="1.6" stroke-linecap="butt"/>
<line x1="1366.7" y1="881.37" x2="1392.15" y2="896.06" stroke="#000" stroke-width="1.6" stroke-linecap="butt"/>
<line x1="1392.15" y1="925.44" x2="1366.7" y2="940.13" stroke="#000" stroke-width="1.6" stroke-linecap="butt"/>
<line x1="1335.09" y1="929" x2="1314.6" y2="940.7" stroke="#000" stroke-width="1.6" stroke-linecap="butt"/>
<text x="1274.79" y="957" font-size="25.6" fill="#000" text-anchor="start">HO</text>
<line x1="1366.7" y1="947.25" x2="1366.7" y2="984.4" stroke="#000" stroke-width="1.5" stroke-linecap="butt"/>
<path d="M1366.7 984.35 L1398.31 1002.6 L1398.31 1039.1 L1366.7 1057.35 L1335.09 1039.1 L1335.09 1002.6 Z" fill="none" stroke="#000" stroke-width="1.6" stroke-linejoin="miter" stroke-linecap="butt" stroke-miterlimit="10"/>
<line x1="1366.7" y1="991.47" x2="1392.15" y2="1006.16" stroke="#000" stroke-width="1.6" stroke-linecap="butt"/>
<line x1="1392.15" y1="1035.54" x2="1366.7" y2="1050.23" stroke="#000" stroke-width="1.6" stroke-linecap="butt"/>
<path d="M1335.09 1002.6 L1303.48 984.35 L1271.87 1002.6 L1271.87 1039.1 L1303.48 1057.35 L1335.09 1039.1" fill="none" stroke="#000" stroke-width="1.6" stroke-linejoin="miter" stroke-linecap="butt" stroke-miterlimit="10"/>
<line x1="1303.48" y1="991.47" x2="1328.93" y2="1006.16" stroke="#000" stroke-width="1.6" stroke-linecap="butt"/>
<line x1="1278.03" y1="1006.16" x2="1278.03" y2="1035.54" stroke="#000" stroke-width="1.6" stroke-linecap="butt"/>
<line x1="1303.48" y1="1050.23" x2="1328.93" y2="1035.54" stroke="#000" stroke-width="1.6" stroke-linecap="butt"/>
<line x1="1398.31" y1="1002.6" x2="1417" y2="991.3" stroke="#000" stroke-width="1.6" stroke-linecap="butt"/>
<text x="1420.25" y="993.7" font-size="25.6" fill="#000" text-anchor="start">N</text>
<text x="1420.25" y="972.3" font-size="25.6" fill="#000" text-anchor="start">H</text>
<line x1="1442.4" y1="991" x2="1461.9" y2="1002" stroke="#000" stroke-width="1.6" stroke-linecap="butt"/>
<line x1="1461.9" y1="1002" x2="1479.5" y2="991.8" stroke="#000" stroke-width="1.6" stroke-linecap="butt"/>
<text x="1485.24" y="993.7" font-size="25.6" fill="#000" text-anchor="start">Ar</text>
<line x1="1458.5" y1="1003" x2="1458.5" y2="1026.2" stroke="#000" stroke-width="1.6" stroke-linecap="butt"/>
<line x1="1465.2" y1="1003" x2="1465.2" y2="1026.2" stroke="#000" stroke-width="1.6" stroke-linecap="butt"/>
<text x="1451.25" y="1048.3" font-size="25.6" fill="#000" text-anchor="start">O</text>
<path d="M632.2 872.6 L664.07 891 L664.07 927.8 L632.2 946.2 L600.33 927.8 L600.33 891 Z" fill="none" stroke="#000" stroke-width="1.6" stroke-linejoin="miter" stroke-linecap="butt" stroke-miterlimit="10"/>
<line x1="606.54" y1="894.59" x2="606.54" y2="924.21" stroke="#000" stroke-width="1.6" stroke-linecap="butt"/>
<line x1="632.2" y1="879.78" x2="657.86" y2="894.59" stroke="#000" stroke-width="1.6" stroke-linecap="butt"/>
<line x1="657.86" y1="924.21" x2="632.2" y2="939.02" stroke="#000" stroke-width="1.6" stroke-linecap="butt"/>
<path d="M632.2 872.6 L600.33 891 L600.33 927.8 L632.2 946.2" fill="none" stroke="#000" stroke-width="4.8" stroke-linejoin="miter" stroke-linecap="butt" stroke-miterlimit="10"/>
<line x1="664.07" y1="927.8" x2="684.6" y2="929.9" stroke="#000" stroke-width="1.6" stroke-linecap="butt"/>
<text x="686.65" y="940.7" font-size="25.6" fill="#000" text-anchor="start">O</text>
<line x1="702.8" y1="943.7" x2="712.5" y2="964.3" stroke="#000" stroke-width="1.6" stroke-linecap="butt"/>
<line x1="712.5" y1="964.3" x2="736.6" y2="964.3" stroke="#000" stroke-width="1.6" stroke-linecap="butt"/>
<text x="740.84" y="974.2" font-size="25.6" fill="#000" text-anchor="start">Ar</text>
<line x1="712.5" y1="964.3" x2="704.2" y2="984.4" stroke="#000" stroke-width="1.6" stroke-linecap="butt"/>
<line x1="705.8" y1="965.4" x2="697.8" y2="982.4" stroke="#000" stroke-width="1.6" stroke-linecap="butt"/>
<text x="686.95" y="1006.9" font-size="25.6" fill="#000" text-anchor="start">N</text>
<line x1="685.3" y1="998.5" x2="664.2" y2="1000.9" stroke="#000" stroke-width="1.6" stroke-linecap="butt"/>
<line x1="632.2" y1="946.2" x2="632.2" y2="983.4" stroke="#000" stroke-width="1.5" stroke-linecap="butt"/>
<path d="M632.1 983.15 L663.62 1001.35 L663.62 1037.75 L632.1 1055.95 L600.58 1037.75 L600.58 1001.35 Z" fill="none" stroke="#000" stroke-width="1.6" stroke-linejoin="miter" stroke-linecap="butt" stroke-miterlimit="10"/>
<line x1="606.72" y1="1004.9" x2="632.1" y2="990.25" stroke="#000" stroke-width="1.6" stroke-linecap="butt"/>
<line x1="657.48" y1="1004.9" x2="657.48" y2="1034.2" stroke="#000" stroke-width="1.6" stroke-linecap="butt"/>
<line x1="606.72" y1="1034.2" x2="632.1" y2="1048.85" stroke="#000" stroke-width="1.6" stroke-linecap="butt"/>
<path d="M537.53 1001.35 L569.05 983.15 L600.58 1001.35" fill="none" stroke="#000" stroke-width="1.6" stroke-linejoin="miter" stroke-linecap="butt" stroke-miterlimit="10"/>
<path d="M600.58 1037.75 L569.05 1055.95 L537.53 1037.75 L537.53 1001.35" fill="none" stroke="#000" stroke-width="1.6" stroke-linejoin="miter" stroke-linecap="butt" stroke-miterlimit="10"/>
<line x1="543.68" y1="1004.9" x2="569.05" y2="990.25" stroke="#000" stroke-width="1.6" stroke-linecap="butt"/>
<line x1="543.68" y1="1034.2" x2="569.05" y2="1048.85" stroke="#000" stroke-width="1.6" stroke-linecap="butt"/>
<path d="M955.7 872.6 L987.57 891 L987.57 927.8 L955.7 946.2 L923.83 927.8 L923.83 891 Z" fill="none" stroke="#000" stroke-width="1.6" stroke-linejoin="miter" stroke-linecap="butt" stroke-miterlimit="10"/>
<line x1="930.04" y1="894.59" x2="930.04" y2="924.21" stroke="#000" stroke-width="1.6" stroke-linecap="butt"/>
<line x1="955.7" y1="879.78" x2="981.36" y2="894.59" stroke="#000" stroke-width="1.6" stroke-linecap="butt"/>
<line x1="981.36" y1="924.21" x2="955.7" y2="939.02" stroke="#000" stroke-width="1.6" stroke-linecap="butt"/>
<path d="M955.7 872.6 L987.57 891 L987.57 927.8 L955.7 946.2" fill="none" stroke="#000" stroke-width="4.8" stroke-linejoin="miter" stroke-linecap="butt" stroke-miterlimit="10"/>
<path d="M987.57 927.8 L1008.1 930.4" fill="none" stroke="#000" stroke-width="4.8" stroke-linejoin="miter" stroke-linecap="butt" stroke-miterlimit="10"/>
<text x="1010.15" y="940.7" font-size="25.6" fill="#000" text-anchor="start">O</text>
<line x1="1026.3" y1="943.7" x2="1036" y2="964.3" stroke="#000" stroke-width="1.6" stroke-linecap="butt"/>
<line x1="1036" y1="964.3" x2="1060.1" y2="964.3" stroke="#000" stroke-width="1.6" stroke-linecap="butt"/>
<text x="1064.34" y="974.2" font-size="25.6" fill="#000" text-anchor="start">Ar</text>
<line x1="1036" y1="964.3" x2="1027.7" y2="984.4" stroke="#000" stroke-width="1.6" stroke-linecap="butt"/>
<line x1="1029.3" y1="965.4" x2="1021.3" y2="982.4" stroke="#000" stroke-width="1.6" stroke-linecap="butt"/>
<text x="1010.45" y="1006.9" font-size="25.6" fill="#000" text-anchor="start">N</text>
<line x1="1008.8" y1="998.5" x2="987.7" y2="1000.9" stroke="#000" stroke-width="1.6" stroke-linecap="butt"/>
<line x1="955.7" y1="946.2" x2="955.7" y2="983.4" stroke="#000" stroke-width="1.5" stroke-linecap="butt"/>
<path d="M955.6 983.15 L987.12 1001.35 L987.12 1037.75 L955.6 1055.95 L924.08 1037.75 L924.08 1001.35 Z" fill="none" stroke="#000" stroke-width="1.6" stroke-linejoin="miter" stroke-linecap="butt" stroke-miterlimit="10"/>
<line x1="930.22" y1="1004.9" x2="955.6" y2="990.25" stroke="#000" stroke-width="1.6" stroke-linecap="butt"/>
<line x1="980.98" y1="1004.9" x2="980.98" y2="1034.2" stroke="#000" stroke-width="1.6" stroke-linecap="butt"/>
<line x1="930.22" y1="1034.2" x2="955.6" y2="1048.85" stroke="#000" stroke-width="1.6" stroke-linecap="butt"/>
<path d="M861.03 1001.35 L892.55 983.15 L924.08 1001.35" fill="none" stroke="#000" stroke-width="1.6" stroke-linejoin="miter" stroke-linecap="butt" stroke-miterlimit="10"/>
<path d="M924.08 1037.75 L892.55 1055.95 L861.03 1037.75 L861.03 1001.35" fill="none" stroke="#000" stroke-width="1.6" stroke-linejoin="miter" stroke-linecap="butt" stroke-miterlimit="10"/>
<line x1="867.18" y1="1004.9" x2="892.55" y2="990.25" stroke="#000" stroke-width="1.6" stroke-linecap="butt"/>
<line x1="867.18" y1="1034.2" x2="892.55" y2="1048.85" stroke="#000" stroke-width="1.6" stroke-linecap="butt"/>
<path d="M533 871.5 L521.5 871.5 L521.5 1068.6 L533 1068.6" fill="none" stroke="#000" stroke-width="1.5" stroke-linejoin="miter" stroke-linecap="butt" stroke-miterlimit="10"/>
<path d="M1084.5 871.4 L1096.2 871.4 L1096.2 1069 L1084.5 1069" fill="none" stroke="#000" stroke-width="1.5" stroke-linejoin="miter" stroke-linecap="butt" stroke-miterlimit="10"/>
<line x1="323" y1="964.3" x2="483.7" y2="964.3" stroke="#000" stroke-width="1.4" stroke-linecap="butt"/>
<path d="M497.4 964.3 L482.1 960.05 L483.7 964.3 L482.1 968.55 Z" fill="#000" stroke="none"/>
<line x1="1111.4" y1="964.4" x2="1240.3" y2="964.4" stroke="#000" stroke-width="1.4" stroke-linecap="butt"/>
<path d="M1254 964.4 L1238.7 960.15 L1240.3 964.4 L1238.7 968.65 Z" fill="#000" stroke="none"/>
<line x1="785.9" y1="959.3" x2="842" y2="959.3" stroke="#000" stroke-width="1.4" stroke-linecap="butt"/>
<path d="M844.2 960.6 L828.8 954.8 L830.6 960.6 Z" fill="#000" stroke="none"/>
<line x1="783.2" y1="963.9" x2="841.2" y2="963.9" stroke="#000" stroke-width="1.4" stroke-linecap="butt"/>
<path d="M783.2 963.2 L798.9 968.4 L796 963.2 Z" fill="#000" stroke="none"/>
<text x="367.28" y="917" font-size="25.5" fill="#000" text-anchor="start">i) PPh<tspan font-size="19" dy="5">3</tspan></text>
<text x="333.1" y="948" font-size="25.5" fill="#000" text-anchor="start">DEAD, 80 °C</text>
<text x="1149.38" y="917" font-size="25.5" fill="#000" text-anchor="start">ii) PA</text>
<text x="1116.4" y="946.9" font-size="25.5" fill="#000" text-anchor="start">H<tspan font-size="19" dy="5">2</tspan><tspan dy="-5">O, 25 °C</tspan></text>
<text x="157.2" y="1099.5" font-size="25.4" fill="#000" text-anchor="middle" font-weight="bold">2c</text>
<text x="95.01" y="1130.4" font-size="25.4" fill="#000" text-anchor="start">(<tspan font-style="italic">ee</tspan> = 88%)</text>
<text x="622.71" y="1100" font-size="25.4" fill="#000" text-anchor="start">(+)-<tspan font-weight="bold">2b</tspan></text>
<text x="950.61" y="1100" font-size="25.4" fill="#000" text-anchor="start">(-)-<tspan font-weight="bold">2b</tspan></text>
<text x="1364.9" y="1100.2" font-size="25.4" fill="#000" text-anchor="middle" font-weight="bold">2c</text>
<text x="1309.21" y="1130.6" font-size="25.4" fill="#000" text-anchor="start">(<tspan font-style="italic">ee</tspan> = 0%)</text>
<line x1="78.8" y1="1329.8" x2="364.5" y2="1329.8" stroke="#555" stroke-width="1.4" stroke-linecap="butt"/>
<line x1="78.8" y1="1329.2" x2="78.8" y2="1334.4" stroke="#555" stroke-width="1.3" stroke-linecap="butt"/>
<line x1="173.2" y1="1329.2" x2="173.2" y2="1334.4" stroke="#555" stroke-width="1.3" stroke-linecap="butt"/>
<line x1="268.9" y1="1329.2" x2="268.9" y2="1334.4" stroke="#555" stroke-width="1.3" stroke-linecap="butt"/>
<line x1="364.5" y1="1329.2" x2="364.5" y2="1334.4" stroke="#555" stroke-width="1.3" stroke-linecap="butt"/>
<line x1="126" y1="1329.2" x2="126" y2="1332.6" stroke="#777" stroke-width="1" stroke-linecap="butt"/>
<line x1="221.6" y1="1329.2" x2="221.6" y2="1332.6" stroke="#777" stroke-width="1" stroke-linecap="butt"/>
<line x1="318.5" y1="1329.2" x2="318.5" y2="1332.6" stroke="#777" stroke-width="1" stroke-linecap="butt"/>
<text x="72.6" y="1367.7" font-size="23.8" fill="#111" text-anchor="middle" style="font-family:&quot;Liberation Serif&quot;,serif" textLength="32.6" lengthAdjust="spacingAndGlyphs">4.5</text>
<text x="168.9" y="1367.7" font-size="23.8" fill="#111" text-anchor="middle" style="font-family:&quot;Liberation Serif&quot;,serif" textLength="31.8" lengthAdjust="spacingAndGlyphs">5.0</text>
<text x="270.1" y="1367.7" font-size="23.8" fill="#111" text-anchor="middle" style="font-family:&quot;Liberation Serif&quot;,serif" textLength="32.6" lengthAdjust="spacingAndGlyphs">5.5</text>
<text x="370.2" y="1367.7" font-size="23.8" fill="#111" text-anchor="middle" style="font-family:&quot;Liberation Serif&quot;,serif" textLength="33" lengthAdjust="spacingAndGlyphs">6.0</text>
<text x="108.04" y="1406.4" font-size="26.2" fill="#111" text-anchor="start">Retention time [min]</text>
<path d="M78.6 1316 L79.14 1316.13 L79.68 1316.26 L80.22 1316.4 L80.76 1316.54 L81.3 1316.67 L81.84 1316.8 L82.38 1316.92 L82.92 1317.03 L83.46 1317.13 L84 1317.2 L84.51 1317.26 L85.02 1317.3 L85.53 1317.35 L86.04 1317.39 L86.55 1317.42 L87.06 1317.46 L87.57 1317.49 L88.08 1317.53 L88.59 1317.56 L89.1 1317.6" fill="none" stroke="#555" stroke-width="1.5" stroke-linejoin="round" stroke-linecap="butt" stroke-miterlimit="10"/>
<path d="M89.1 1317.8 L89.66 1317.77 L90.21 1317.75 L90.77 1317.73 L91.33 1317.71 L91.89 1317.68 L92.44 1317.64 L93 1317.6 L93.54 1317.53 L94.08 1317.4 L94.61 1317.23 L95.15 1317.02 L95.69 1316.78 L96.22 1316.51 L96.76 1316.21 L97.3 1315.9 L97.88 1315.48 L98.46 1314.94 L99.04 1314.29 L99.62 1313.57 L100.2 1312.8 L100.78 1311.96 L101.35 1310.99 L101.92 1309.9 L102.5 1308.7 L103.07 1307.34 L103.63 1305.76 L104.2 1304 L104.9 1301.51 L105.6 1298.5 L106.1 1295.86 L106.6 1292.8 L107.1 1289.44 L107.6 1285.91 L108.1 1282.36 L108.6 1278.9 L109.12 1275.42 L109.63 1271.91 L110.15 1268.36 L110.67 1264.77 L111.18 1261.12 L111.7 1257.4 L112.22 1253.57 L112.73 1249.63 L113.25 1245.62 L113.77 1241.6 L114.28 1237.61 L114.8 1233.7 L115.32 1229.85 L115.83 1226.01 L116.35 1222.2 L116.87 1218.43 L117.38 1214.73 L117.9 1211.1 L118.42 1207.41 L118.93 1203.62 L119.45 1199.88 L119.97 1196.35 L120.48 1193.21 L121 1190.6 L121.52 1188.33 L122.03 1186.16 L122.55 1184.18 L123.07 1182.48 L123.58 1181.16 L124.1 1180.3 L124.6 1179.74 L125.1 1179.24 L125.6 1178.82 L126.1 1178.49 L126.6 1178.28 L127.1 1178.2 L127.62 1178.36 L128.13 1178.82 L128.65 1179.5 L129.17 1180.34 L129.68 1181.3 L130.2 1182.3 L130.71 1183.5 L131.22 1185.07 L131.74 1186.95 L132.25 1189.08 L132.76 1191.39 L133.28 1193.82 L133.79 1196.31 L134.3 1198.8 L134.81 1201.41 L135.33 1204.28 L135.84 1207.34 L136.35 1210.52 L136.86 1213.78 L137.38 1217.06 L137.89 1220.28 L138.4 1223.4 L138.93 1226.55 L139.45 1229.73 L139.97 1232.93 L140.5 1236.11 L141.03 1239.24 L141.55 1242.31 L142.07 1245.27 L142.6 1248.1 L143.11 1250.79 L143.62 1253.46 L144.14 1256.09 L144.65 1258.64 L145.16 1261.09 L145.67 1263.42 L146.19 1265.6 L146.7 1267.6 L147.21 1269.47 L147.72 1271.29 L148.23 1273.04 L148.74 1274.72 L149.25 1276.33 L149.76 1277.85 L150.27 1279.28 L150.78 1280.63 L151.29 1281.87 L151.8 1283 L152.31 1284.06 L152.83 1285.08 L153.34 1286.06 L153.86 1286.99 L154.37 1287.89 L154.89 1288.74 L155.4 1289.56 L155.91 1290.34 L156.43 1291.09 L156.94 1291.81 L157.46 1292.5 L157.97 1293.16 L158.49 1293.79 L159 1294.4 L159.51 1294.99 L160.03 1295.56 L160.55 1296.12 L161.06 1296.67 L161.57 1297.2 L162.09 1297.71 L162.6 1298.21 L163.12 1298.7 L163.63 1299.17 L164.15 1299.63 L164.67 1300.08 L165.18 1300.51 L165.69 1300.94 L166.21 1301.35 L166.73 1301.75 L167.24 1302.14 L167.75 1302.52 L168.27 1302.89 L168.79 1303.25 L169.3 1303.6 L169.81 1303.94 L170.31 1304.28 L170.82 1304.61 L171.33 1304.94 L171.83 1305.27 L172.34 1305.59 L172.85 1305.91 L173.35 1306.23 L173.86 1306.54 L174.36 1306.85 L174.87 1307.15 L175.38 1307.45 L175.88 1307.74 L176.39 1308.03 L176.9 1308.31 L177.4 1308.59 L177.91 1308.86 L178.42 1309.12 L178.92 1309.37 L179.43 1309.62 L179.94 1309.86 L180.44 1310.1 L180.95 1310.32 L181.45 1310.54 L181.96 1310.75 L182.47 1310.95 L182.97 1311.14 L183.48 1311.32 L183.99 1311.49 L184.49 1311.65 L185 1311.8 L185.5 1311.94 L186 1312.08 L186.5 1312.21 L187 1312.35 L187.5 1312.47 L188 1312.6 L188.5 1312.72 L189 1312.83 L189.5 1312.95 L190 1313.06 L190.5 1313.17 L191 1313.27 L191.5 1313.38 L192 1313.48 L192.5 1313.57 L193 1313.67 L193.5 1313.76 L194 1313.85 L194.5 1313.94 L195 1314.03 L195.5 1314.11 L196 1314.19 L196.5 1314.27 L197 1314.35 L197.5 1314.43 L198 1314.51 L198.5 1314.58 L199 1314.66 L199.5 1314.73 L200 1314.8 L200.51 1314.87 L201.02 1314.94 L201.53 1315.01 L202.04 1315.08 L202.55 1315.14 L203.06 1315.2 L203.57 1315.26 L204.07 1315.32 L204.58 1315.38 L205.09 1315.44 L205.6 1315.5 L206.11 1315.55 L206.62 1315.61 L207.13 1315.66 L207.64 1315.71 L208.15 1315.77 L208.66 1315.82 L209.17 1315.87 L209.68 1315.92 L210.19 1315.97 L210.7 1316.02 L211.21 1316.07 L211.72 1316.12 L212.23 1316.17 L212.73 1316.23 L213.24 1316.28 L213.75 1316.33 L214.26 1316.38 L214.77 1316.44 L215.28 1316.49 L215.79 1316.54 L216.3 1316.6" fill="none" stroke="#5050ee" stroke-width="1.5" stroke-linejoin="round" stroke-linecap="butt" stroke-miterlimit="10"/>
<path d="M216.3 1316.6 L216.82 1316.46 L217.33 1316.32 L217.85 1316.19 L218.37 1316.06 L218.88 1315.93 L219.4 1315.8 L219.92 1315.67 L220.43 1315.54 L220.95 1315.42 L221.47 1315.29 L221.98 1315.16 L222.5 1315.03 L223.02 1314.9 L223.53 1314.77 L224.05 1314.63 L224.57 1314.49 L225.08 1314.34 L225.6 1314.2 L226.12 1314.04 L226.63 1313.89 L227.15 1313.73 L227.67 1313.56 L228.18 1313.38 L228.7 1313.2 L229.21 1313.01 L229.71 1312.8 L230.22 1312.57 L230.72 1312.32 L231.23 1312.06 L231.73 1311.79 L232.24 1311.51 L232.74 1311.23 L233.25 1310.94 L233.75 1310.65 L234.26 1310.37 L234.76 1310.08 L235.27 1309.8 L235.77 1309.54 L236.28 1309.28 L236.78 1309.03 L237.29 1308.8 L237.79 1308.59 L238.3 1308.4 L238.82 1308.21 L239.33 1308.02 L239.85 1307.82 L240.36 1307.62 L240.88 1307.43 L241.39 1307.24 L241.91 1307.07 L242.42 1306.91 L242.94 1306.77 L243.45 1306.66 L243.97 1306.57 L244.48 1306.52 L245 1306.5 L245.51 1306.51 L246.02 1306.56 L246.52 1306.62 L247.03 1306.71 L247.54 1306.82 L248.05 1306.94 L248.55 1307.08 L249.06 1307.22 L249.57 1307.38 L250.08 1307.53 L250.58 1307.69 L251.09 1307.85 L251.6 1308 L252.11 1308.16 L252.61 1308.34 L253.12 1308.53 L253.62 1308.74 L254.13 1308.96 L254.63 1309.2 L255.14 1309.44 L255.64 1309.69 L256.15 1309.94 L256.65 1310.19 L257.16 1310.45 L257.66 1310.7 L258.17 1310.94 L258.67 1311.18 L259.18 1311.41 L259.68 1311.63 L260.19 1311.84 L260.69 1312.03 L261.2 1312.2 L261.7 1312.36 L262.2 1312.52 L262.7 1312.68 L263.2 1312.83 L263.7 1312.98 L264.2 1313.13 L264.7 1313.28 L265.2 1313.42 L265.7 1313.56 L266.2 1313.7 L266.7 1313.83 L267.2 1313.96 L267.7 1314.09 L268.2 1314.21 L268.7 1314.33 L269.2 1314.44 L269.7 1314.55 L270.2 1314.65 L270.7 1314.75 L271.2 1314.85 L271.7 1314.94 L272.2 1315.02 L272.7 1315.1 L273.21 1315.18 L273.72 1315.25 L274.23 1315.33 L274.74 1315.4 L275.24 1315.47 L275.75 1315.55 L276.26 1315.62 L276.77 1315.69 L277.28 1315.76 L277.79 1315.83 L278.3 1315.9 L278.81 1315.96 L279.32 1316.03 L279.82 1316.09 L280.33 1316.16 L280.84 1316.22 L281.35 1316.28 L281.86 1316.34 L282.37 1316.4 L282.88 1316.46 L283.39 1316.51 L283.9 1316.57 L284.4 1316.62 L284.91 1316.67 L285.42 1316.73 L285.93 1316.78 L286.44 1316.82 L286.95 1316.87 L287.46 1316.91 L287.97 1316.96 L288.48 1317 L288.98 1317.04 L289.49 1317.08 L290 1317.12 L290.51 1317.15 L291.02 1317.18 L291.53 1317.22 L292.04 1317.24 L292.55 1317.27 L293.06 1317.3 L293.56 1317.32 L294.07 1317.35 L294.58 1317.37 L295.09 1317.38 L295.6 1317.4 L296.11 1317.41 L296.61 1317.43 L297.12 1317.44 L297.62 1317.46 L298.13 1317.47 L298.63 1317.48 L299.14 1317.5 L299.64 1317.51 L300.15 1317.52 L300.66 1317.53 L301.16 1317.55 L301.67 1317.56 L302.17 1317.57 L302.68 1317.58 L303.18 1317.59 L303.69 1317.6 L304.19 1317.61 L304.7 1317.62 L305.21 1317.63 L305.71 1317.64 L306.22 1317.65 L306.72 1317.66 L307.23 1317.66 L307.73 1317.67 L308.24 1317.68 L308.74 1317.69 L309.25 1317.7 L309.76 1317.7 L310.26 1317.71 L310.77 1317.72 L311.27 1317.73 L311.78 1317.73 L312.28 1317.74 L312.79 1317.75 L313.29 1317.75 L313.8 1317.76 L314.31 1317.77 L314.81 1317.77 L315.32 1317.78 L315.82 1317.79 L316.33 1317.79 L316.83 1317.8 L317.34 1317.81 L317.84 1317.81 L318.35 1317.82 L318.86 1317.82 L319.36 1317.83 L319.87 1317.84 L320.37 1317.84 L320.88 1317.85 L321.38 1317.85 L321.89 1317.86 L322.39 1317.87 L322.9 1317.87 L323.41 1317.88 L323.91 1317.89 L324.42 1317.89 L324.92 1317.9 L325.43 1317.9 L325.93 1317.91 L326.44 1317.92 L326.94 1317.92 L327.45 1317.93 L327.96 1317.94 L328.46 1317.95 L328.97 1317.95 L329.47 1317.96 L329.98 1317.97 L330.48 1317.98 L330.99 1317.98 L331.49 1317.99 L332 1318" fill="none" stroke="#ee4a58" stroke-width="1.5" stroke-linejoin="round" stroke-linecap="butt" stroke-miterlimit="10"/>
<path d="M332 1318 L364.5 1318.3" fill="none" stroke="#555" stroke-width="1.8" stroke-linejoin="round" stroke-linecap="butt" stroke-miterlimit="10"/>
<text x="138.9" y="1172.7" font-size="24" fill="#111" text-anchor="middle" style="font-family:&quot;Liberation Serif&quot;,serif" textLength="46.2" lengthAdjust="spacingAndGlyphs">94%</text>
<text x="252" y="1297.6" font-size="24" fill="#111" text-anchor="middle" style="font-family:&quot;Liberation Serif&quot;,serif" textLength="34.1" lengthAdjust="spacingAndGlyphs">6%</text>
<line x1="450" y1="1273.4" x2="506.6" y2="1273.4" stroke="#000" stroke-width="1.7" stroke-linecap="butt"/>
<path d="M520 1273.4 L504.3 1269.2 L506.6 1273.4 L504.3 1277.6 Z" fill="#000" stroke="none"/>
<text x="473.79" y="1257.6" font-size="25.4" fill="#000" text-anchor="start">i)</text>
<line x1="1027.5" y1="1274.9" x2="1084.6" y2="1274.9" stroke="#000" stroke-width="1.7" stroke-linecap="butt"/>
<path d="M1098 1274.9 L1082.3 1270.7 L1084.6 1274.9 L1082.3 1279.1 Z" fill="#000" stroke="none"/>
<text x="1049.69" y="1257.8" font-size="25.4" fill="#000" text-anchor="start">ii)</text>
<line x1="618.9" y1="1333.8" x2="945" y2="1333.8" stroke="#555" stroke-width="1.4" stroke-linecap="butt"/>
<line x1="618.9" y1="1333.2" x2="618.9" y2="1338.4" stroke="#555" stroke-width="1.3" stroke-linecap="butt"/>
<line x1="727.3" y1="1333.2" x2="727.3" y2="1338.4" stroke="#555" stroke-width="1.3" stroke-linecap="butt"/>
<line x1="836" y1="1333.2" x2="836" y2="1338.4" stroke="#555" stroke-width="1.3" stroke-linecap="butt"/>
<line x1="945" y1="1333.2" x2="945" y2="1338.4" stroke="#555" stroke-width="1.3" stroke-linecap="butt"/>
<line x1="672.2" y1="1333.2" x2="672.2" y2="1336.6" stroke="#777" stroke-width="1" stroke-linecap="butt"/>
<line x1="781.9" y1="1333.2" x2="781.9" y2="1336.6" stroke="#777" stroke-width="1" stroke-linecap="butt"/>
<line x1="890.5" y1="1333.2" x2="890.5" y2="1336.6" stroke="#777" stroke-width="1" stroke-linecap="butt"/>
<text x="615.7" y="1367.4" font-size="23.7" fill="#111" text-anchor="middle">3.0</text>
<text x="727.8" y="1367.4" font-size="23.7" fill="#111" text-anchor="middle">4.0</text>
<text x="837.7" y="1367.4" font-size="23.7" fill="#111" text-anchor="middle">5.0</text>
<text x="945.9" y="1367.4" font-size="23.7" fill="#111" text-anchor="middle">6.0</text>
<text x="659.94" y="1406.9" font-size="26.2" fill="#111" text-anchor="start">Retention time [min]</text>
<path d="M618.9 1316.3 L686.1 1316.3" fill="none" stroke="#555" stroke-width="1.5" stroke-linejoin="round" stroke-linecap="butt" stroke-miterlimit="10"/>
<path d="M686.1 1316.3 L686.61 1316.3 L687.12 1316.3 L687.63 1316.3 L688.15 1316.3 L688.66 1316.3 L689.17 1316.3 L689.68 1316.3 L690.19 1316.3 L690.7 1316.3 L691.22 1316.3 L691.73 1316.3 L692.24 1316.3 L692.75 1316.3 L693.26 1316.3 L693.77 1316.3 L694.28 1316.3 L694.8 1316.3 L695.31 1316.3 L695.82 1316.3 L696.33 1316.3 L696.84 1316.3 L697.35 1316.3 L697.87 1316.3 L698.38 1316.3 L698.89 1316.3 L699.4 1316.3 L699.92 1316.17 L700.44 1315.79 L700.96 1315.21 L701.48 1314.43 L702 1313.5 L702.63 1311.03 L703.27 1306.57 L703.9 1300.9 L704.53 1293.16 L705.17 1282.39 L705.8 1269.2 L706.4 1250.94 L707 1231.1 L707.65 1213.62 L708.3 1199.4 L708.93 1188.48 L709.57 1179.34 L710.2 1174 L710.7 1171.94 L711.2 1170.21 L711.7 1168.87 L712.2 1168.01 L712.7 1167.7 L713.22 1167.88 L713.74 1168.4 L714.26 1169.2 L714.78 1170.25 L715.3 1171.5 L715.93 1174.75 L716.57 1180.3 L717.2 1186.7 L717.83 1194.01 L718.47 1202.75 L719.1 1212.1 L719.73 1222.53 L720.37 1233.74 L721 1243.8 L721.63 1252.75 L722.27 1260.87 L722.9 1266.6 L723.44 1269.77 L723.99 1272.44 L724.53 1274.72 L725.07 1276.7 L725.61 1278.47 L726.16 1280.14 L726.7 1281.8 L727.21 1283.34 L727.72 1284.78 L728.23 1286.15 L728.74 1287.46 L729.25 1288.7 L729.76 1289.91 L730.27 1291.08 L730.78 1292.23 L731.29 1293.36 L731.8 1294.5 L732.32 1295.68 L732.85 1296.88 L733.38 1298.07 L733.9 1299.26 L734.42 1300.42 L734.95 1301.56 L735.48 1302.66 L736 1303.7 L736.52 1304.69 L737.05 1305.61 L737.58 1306.45 L738.1 1307.2 L738.62 1307.89 L739.15 1308.57 L739.67 1309.23 L740.2 1309.86 L740.73 1310.47 L741.25 1311.03 L741.77 1311.56 L742.3 1312.05 L742.83 1312.5 L743.35 1312.89 L743.88 1313.22 L744.4 1313.5 L744.91 1313.74 L745.43 1313.97 L745.94 1314.19 L746.45 1314.4 L746.97 1314.6 L747.48 1314.79 L747.99 1314.96 L748.51 1315.13 L749.02 1315.28 L749.53 1315.41 L750.05 1315.52 L750.56 1315.62 L751.07 1315.7 L751.59 1315.76 L752.1 1315.8 L752.6 1315.83 L753.1 1315.85 L753.6 1315.88 L754.1 1315.9 L754.6 1315.92 L755.1 1315.94 L755.6 1315.96 L756.1 1315.98 L756.6 1315.99 L757.1 1316.01 L757.6 1316.02 L758.1 1316.04 L758.6 1316.05 L759.1 1316.06 L759.6 1316.08 L760.1 1316.09 L760.6 1316.1 L761.1 1316.11 L761.6 1316.12 L762.1 1316.13 L762.6 1316.14 L763.1 1316.15 L763.6 1316.15 L764.1 1316.16 L764.6 1316.17 L765.1 1316.18 L765.6 1316.19 L766.1 1316.2 L766.6 1316.2 L767.1 1316.21 L767.6 1316.22 L768.1 1316.23 L768.6 1316.24 L769.1 1316.25 L769.6 1316.26 L770.1 1316.28 L770.6 1316.29 L771.1 1316.3" fill="none" stroke="#2a2ae6" stroke-width="1.5" stroke-linejoin="round" stroke-linecap="butt" stroke-miterlimit="10"/>
<path d="M771.1 1316.3 L771.61 1316.31 L772.11 1316.32 L772.62 1316.33 L773.13 1316.34 L773.64 1316.35 L774.14 1316.36 L774.65 1316.37 L775.16 1316.38 L775.66 1316.39 L776.17 1316.4 L776.68 1316.41 L777.18 1316.42 L777.69 1316.43 L778.2 1316.45 L778.71 1316.46 L779.21 1316.47 L779.72 1316.48 L780.23 1316.49 L780.73 1316.5 L781.24 1316.52 L781.75 1316.53 L782.25 1316.54 L782.76 1316.55 L783.27 1316.56 L783.78 1316.57 L784.28 1316.58 L784.79 1316.6 L785.3 1316.61 L785.8 1316.62 L786.31 1316.63 L786.82 1316.64 L787.32 1316.65 L787.83 1316.66 L788.34 1316.67 L788.85 1316.68 L789.35 1316.69 L789.86 1316.7 L790.37 1316.71 L790.87 1316.72 L791.38 1316.72 L791.89 1316.73 L792.39 1316.74 L792.9 1316.75 L793.41 1316.75 L793.92 1316.76 L794.42 1316.77 L794.93 1316.77 L795.44 1316.78 L795.94 1316.78 L796.45 1316.79 L796.96 1316.79 L797.46 1316.79 L797.97 1316.8 L798.48 1316.8 L798.99 1316.8 L799.49 1316.8 L800 1316.8 L800.5 1316.8 L801 1316.8 L801.5 1316.8 L802 1316.8 L802.5 1316.8 L803 1316.8 L803.5 1316.8 L804 1316.8 L804.5 1316.8 L805 1316.8 L805.5 1316.8 L806 1316.8 L806.5 1316.8 L807 1316.8 L807.5 1316.8 L808 1316.8 L808.5 1316.8 L809 1316.8 L809.5 1316.8 L810 1316.8 L810.5 1316.8 L811 1316.8 L811.5 1316.8 L812 1316.8 L812.5 1316.8 L813 1316.8 L813.5 1316.8 L814 1316.8 L814.5 1316.8 L815 1316.8 L815.5 1316.8 L816 1316.8 L816.5 1316.8 L817 1316.8 L817.5 1316.8 L818 1316.8 L818.5 1316.8 L819 1316.8 L819.5 1316.8 L820 1316.8 L820.5 1316.8 L821 1316.8 L821.5 1316.8 L822 1316.8 L822.5 1316.8 L823 1316.8 L823.5 1316.8 L824 1316.8 L824.5 1316.8 L825 1316.8 L825.5 1316.8 L826 1316.8 L826.5 1316.8 L827 1316.8 L827.5 1316.8 L828 1316.8 L828.5 1316.8 L829 1316.8 L829.5 1316.8 L830 1316.8 L830.5 1316.8 L831 1316.8 L831.5 1316.8 L832 1316.8 L832.5 1316.8 L833 1316.8 L833.5 1316.8 L834 1316.8 L834.5 1316.8 L835 1316.8 L835.5 1316.8 L836 1316.8 L836.5 1316.8 L837 1316.8 L837.5 1316.8 L838 1316.8 L838.5 1316.8 L839 1316.8 L839.5 1316.8 L840 1316.8 L840.5 1316.8 L841 1316.8 L841.5 1316.8 L842 1316.8 L842.5 1316.8 L843 1316.8 L843.5 1316.8 L844 1316.8 L844.5 1316.8 L845 1316.8 L845.5 1316.8 L846 1316.8 L846.5 1316.8 L847 1316.8 L847.5 1316.8 L848 1316.8 L848.5 1316.8 L849 1316.8 L849.5 1316.8 L850 1316.8 L850.5 1316.8 L851 1316.8 L851.5 1316.8 L852 1316.8 L852.5 1316.8 L853 1316.8 L853.5 1316.8 L854 1316.8 L854.5 1316.8 L855 1316.8 L855.5 1316.8 L856 1316.8 L856.5 1316.8 L857 1316.8 L857.5 1316.8 L858 1316.8 L858.5 1316.8 L859 1316.8 L859.5 1316.8 L860 1316.8 L860.5 1316.8 L861 1316.8 L861.5 1316.8 L862 1316.8 L862.5 1316.8 L863 1316.8 L863.5 1316.8 L864 1316.8 L864.5 1316.8 L865 1316.8 L865.5 1316.8 L866 1316.8 L866.5 1316.8 L867 1316.8 L867.5 1316.8 L868 1316.8 L868.5 1316.8 L869 1316.8 L869.5 1316.8 L870 1316.8 L870.5 1316.8 L871 1316.8 L871.5 1316.8 L872 1316.8 L872.5 1316.8 L873 1316.8 L873.5 1316.8 L874 1316.8 L874.5 1316.8 L875 1316.8 L875.5 1316.8 L876 1316.8 L876.5 1316.8 L877 1316.8 L877.5 1316.8 L878 1316.8 L878.5 1316.8 L879 1316.8 L879.5 1316.8 L880 1316.8 L880.5 1316.8 L881 1316.8 L881.5 1316.8 L882 1316.8 L882.5 1316.8 L883 1316.8 L883.5 1316.8 L884 1316.8 L884.5 1316.8 L885 1316.8 L885.5 1316.8 L886 1316.8 L886.5 1316.8 L887 1316.8 L887.5 1316.8 L888 1316.8 L888.5 1316.8 L889 1316.8 L889.5 1316.8 L890 1316.8 L890.5 1316.8 L891 1316.8 L891.5 1316.8 L892 1316.8 L892.5 1316.8 L893 1316.8 L893.5 1316.8 L894 1316.8 L894.5 1316.8 L895 1316.8 L895.5 1316.8 L896 1316.8 L896.5 1316.8 L897 1316.8 L897.5 1316.8 L898 1316.8 L898.5 1316.8 L899 1316.8 L899.5 1316.8 L900 1316.8 L900.5 1316.8 L901 1316.8 L901.5 1316.8 L902 1316.8 L902.5 1316.8 L903 1316.8 L903.5 1316.8 L904 1316.8 L904.5 1316.8 L905 1316.8 L905.5 1316.8 L906 1316.8 L906.5 1316.8 L907 1316.8 L907.5 1316.8 L908 1316.8 L908.5 1316.8 L909 1316.8 L909.5 1316.8 L910 1316.8 L910.5 1316.8 L911 1316.8 L911.5 1316.8 L912 1316.8 L912.5 1316.8 L913 1316.8 L913.5 1316.8 L914 1316.8 L914.5 1316.8 L915 1316.8 L915.5 1316.8 L916 1316.8 L916.5 1316.8 L917 1316.8 L917.5 1316.8 L918 1316.8 L918.5 1316.8 L919 1316.8 L919.5 1316.8 L920 1316.8 L920.5 1316.8 L921 1316.8 L921.5 1316.8 L922 1316.8 L922.5 1316.8 L923 1316.8 L923.5 1316.8 L924 1316.8 L924.5 1316.8 L925 1316.8 L925.5 1316.8 L926 1316.8 L926.5 1316.8 L927 1316.8 L927.5 1316.8 L928 1316.8 L928.5 1316.8 L929 1316.8 L929.5 1316.8 L930 1316.8 L930.5 1316.8 L931 1316.8 L931.5 1316.8 L932 1316.8 L932.5 1316.8 L933 1316.8 L933.5 1316.8 L934 1316.8 L934.5 1316.8 L935 1316.8 L935.5 1316.8 L936 1316.8 L936.5 1316.8 L937 1316.8 L937.5 1316.8 L938 1316.8 L938.5 1316.8 L939 1316.8 L939.5 1316.8 L940 1316.8 L940.5 1316.8 L941 1316.8 L941.5 1316.8 L942 1316.8 L942.5 1316.8 L943 1316.8 L943.5 1316.8 L944 1316.8 L944.5 1316.8 L945 1316.8" fill="none" stroke="#555" stroke-width="1.3" stroke-linejoin="round" stroke-linecap="butt" stroke-miterlimit="10"/>
<line x1="1178.7" y1="1327.3" x2="1489.3" y2="1327.3" stroke="#555" stroke-width="1.4" stroke-linecap="butt"/>
<line x1="1178.7" y1="1326.7" x2="1178.7" y2="1331.9" stroke="#555" stroke-width="1.3" stroke-linecap="butt"/>
<line x1="1282.3" y1="1326.7" x2="1282.3" y2="1331.9" stroke="#555" stroke-width="1.3" stroke-linecap="butt"/>
<line x1="1386.1" y1="1326.7" x2="1386.1" y2="1331.9" stroke="#555" stroke-width="1.3" stroke-linecap="butt"/>
<line x1="1489.3" y1="1326.7" x2="1489.3" y2="1331.9" stroke="#555" stroke-width="1.3" stroke-linecap="butt"/>
<line x1="1230.5" y1="1326.7" x2="1230.5" y2="1330.1" stroke="#777" stroke-width="1" stroke-linecap="butt"/>
<line x1="1334.2" y1="1326.7" x2="1334.2" y2="1330.1" stroke="#777" stroke-width="1" stroke-linecap="butt"/>
<line x1="1437.7" y1="1326.7" x2="1437.7" y2="1330.1" stroke="#777" stroke-width="1" stroke-linecap="butt"/>
<text x="1176.4" y="1367.5" font-size="24.3" fill="#111" text-anchor="middle">4.5</text>
<text x="1283.6" y="1367.5" font-size="24.3" fill="#111" text-anchor="middle">5.0</text>
<text x="1390.5" y="1367.5" font-size="24.3" fill="#111" text-anchor="middle">5.5</text>
<text x="1493.6" y="1367.5" font-size="24.3" fill="#111" text-anchor="middle">6.0</text>
<text x="1216.27" y="1407.7" font-size="27" fill="#111" text-anchor="start">Retention time [min]</text>
<path d="M1178.4 1308.8 L1178.9 1308.83 L1179.41 1308.87 L1179.91 1308.91 L1180.42 1308.94 L1180.92 1308.98 L1181.43 1309.01 L1181.93 1309.05 L1182.43 1309.08 L1182.94 1309.12 L1183.44 1309.15 L1183.95 1309.19 L1184.45 1309.22 L1184.96 1309.26 L1185.46 1309.29 L1185.97 1309.33 L1186.47 1309.36 L1186.97 1309.4 L1187.48 1309.43 L1187.98 1309.47 L1188.49 1309.5 L1188.99 1309.53 L1189.5 1309.57 L1190 1309.6 L1190.5 1309.63 L1191 1309.66 L1191.5 1309.7 L1192 1309.73 L1192.5 1309.76 L1193 1309.79 L1193.5 1309.82 L1194 1309.85 L1194.5 1309.88 L1195 1309.91 L1195.5 1309.94 L1196 1309.97 L1196.5 1310 L1197 1310.03 L1197.5 1310.06 L1198 1310.09 L1198.5 1310.12 L1199 1310.15 L1199.5 1310.18 L1200 1310.21 L1200.5 1310.24 L1201 1310.27 L1201.5 1310.3" fill="none" stroke="#555" stroke-width="1.5" stroke-linejoin="round" stroke-linecap="butt" stroke-miterlimit="10"/>
<path d="M1201.5 1310.3 L1202.01 1310.25 L1202.51 1310.2 L1203.02 1310.15 L1203.53 1310.11 L1204.03 1310.07 L1204.54 1310.03 L1205.04 1309.99 L1205.55 1309.95 L1206.06 1309.9 L1206.56 1309.85 L1207.07 1309.8 L1207.57 1309.74 L1208.08 1309.67 L1208.59 1309.59 L1209.09 1309.5 L1209.6 1309.4 L1210.13 1309.24 L1210.67 1308.99 L1211.2 1308.66 L1211.73 1308.26 L1212.27 1307.79 L1212.8 1307.28 L1213.33 1306.71 L1213.87 1306.12 L1214.4 1305.5 L1214.94 1304.79 L1215.49 1303.93 L1216.03 1302.95 L1216.57 1301.83 L1217.11 1300.6 L1217.66 1299.25 L1218.2 1297.8 L1218.76 1296.08 L1219.31 1294.03 L1219.87 1291.71 L1220.43 1289.15 L1220.99 1286.42 L1221.54 1283.55 L1222.1 1280.6 L1222.68 1277.31 L1223.26 1273.69 L1223.84 1269.79 L1224.42 1265.68 L1225 1261.4 L1225.56 1256.95 L1226.12 1252.11 L1226.68 1247.09 L1227.24 1242.12 L1227.8 1237.4 L1228.38 1232.74 L1228.96 1228.14 L1229.54 1223.66 L1230.12 1219.37 L1230.7 1215.3 L1231.24 1211.52 L1231.79 1207.64 L1232.33 1203.82 L1232.87 1200.21 L1233.41 1196.99 L1233.96 1194.3 L1234.5 1192.3 L1235.03 1190.75 L1235.57 1189.25 L1236.1 1187.85 L1236.63 1186.56 L1237.17 1185.44 L1237.7 1184.51 L1238.23 1183.81 L1238.77 1183.36 L1239.3 1183.2 L1239.83 1183.34 L1240.37 1183.74 L1240.9 1184.38 L1241.43 1185.21 L1241.97 1186.22 L1242.5 1187.36 L1243.03 1188.61 L1243.57 1189.93 L1244.1 1191.3 L1244.66 1193.1 L1245.21 1195.51 L1245.77 1198.38 L1246.33 1201.56 L1246.89 1204.91 L1247.44 1208.27 L1248 1211.5 L1248.54 1214.63 L1249.09 1217.92 L1249.63 1221.29 L1250.17 1224.71 L1250.71 1228.08 L1251.26 1231.37 L1251.8 1234.5 L1252.36 1237.61 L1252.91 1240.71 L1253.47 1243.75 L1254.03 1246.71 L1254.59 1249.54 L1255.14 1252.22 L1255.7 1254.7 L1256.23 1256.96 L1256.77 1259.18 L1257.3 1261.35 L1257.83 1263.43 L1258.37 1265.41 L1258.9 1267.27 L1259.43 1268.99 L1259.97 1270.54 L1260.5 1271.9 L1261.02 1273.08 L1261.53 1274.2 L1262.05 1275.25 L1262.56 1276.24 L1263.08 1277.17 L1263.59 1278.06 L1264.11 1278.91 L1264.62 1279.72 L1265.14 1280.5 L1265.65 1281.25 L1266.17 1281.98 L1266.68 1282.7 L1267.2 1283.4 L1267.71 1284.08 L1268.21 1284.75 L1268.72 1285.41 L1269.22 1286.06 L1269.73 1286.69 L1270.23 1287.31 L1270.74 1287.92 L1271.24 1288.51 L1271.75 1289.09 L1272.25 1289.65 L1272.76 1290.2 L1273.26 1290.73 L1273.77 1291.25 L1274.27 1291.75 L1274.78 1292.24 L1275.28 1292.7 L1275.79 1293.15 L1276.29 1293.59 L1276.8 1294 L1277.3 1294.4 L1277.8 1294.78 L1278.3 1295.16 L1278.8 1295.53 L1279.3 1295.89 L1279.8 1296.24 L1280.3 1296.58 L1280.8 1296.92 L1281.3 1297.25 L1281.8 1297.57 L1282.3 1297.89 L1282.8 1298.19 L1283.3 1298.5 L1283.8 1298.79 L1284.3 1299.08 L1284.8 1299.36 L1285.3 1299.64 L1285.8 1299.91 L1286.3 1300.18 L1286.8 1300.45 L1287.3 1300.7 L1287.8 1300.96 L1288.3 1301.21 L1288.8 1301.46 L1289.3 1301.7 L1289.81 1301.95 L1290.32 1302.19 L1290.83 1302.43 L1291.34 1302.67 L1291.85 1302.9 L1292.36 1303.13 L1292.87 1303.36 L1293.38 1303.58 L1293.89 1303.8 L1294.4 1304.01 L1294.9 1304.22 L1295.41 1304.43 L1295.92 1304.63 L1296.43 1304.82 L1296.94 1305.01 L1297.45 1305.19 L1297.96 1305.36 L1298.47 1305.53 L1298.98 1305.7 L1299.49 1305.85 L1300 1306 L1300.5 1306.14 L1301 1306.28 L1301.5 1306.42 L1302 1306.56 L1302.5 1306.7 L1303 1306.83 L1303.5 1306.96 L1304 1307.1 L1304.5 1307.22 L1305 1307.35 L1305.5 1307.47 L1306 1307.6 L1306.5 1307.71 L1307 1307.83 L1307.5 1307.94 L1308 1308.05 L1308.5 1308.15 L1309 1308.25 L1309.5 1308.35 L1310 1308.44 L1310.5 1308.53 L1311 1308.61 L1311.5 1308.69 L1312 1308.76 L1312.5 1308.83 L1313 1308.89 L1313.5 1308.95 L1314 1309 L1314.51 1309.05 L1315.02 1309.09 L1315.53 1309.14 L1316.04 1309.18 L1316.55 1309.22 L1317.06 1309.25 L1317.57 1309.29 L1318.08 1309.32 L1318.59 1309.35 L1319.1 1309.39 L1319.61 1309.42 L1320.12 1309.44 L1320.63 1309.47 L1321.14 1309.5 L1321.66 1309.53 L1322.17 1309.55 L1322.68 1309.58 L1323.19 1309.6 L1323.7 1309.63 L1324.21 1309.65 L1324.72 1309.68 L1325.23 1309.71 L1325.74 1309.73 L1326.25 1309.76 L1326.76 1309.78 L1327.27 1309.81 L1327.78 1309.84 L1328.29 1309.87 L1328.8 1309.9" fill="none" stroke="#2a2ae6" stroke-width="1.5" stroke-linejoin="round" stroke-linecap="butt" stroke-miterlimit="10"/>
<path d="M1328.8 1309.9 L1329.31 1309.81 L1329.83 1309.73 L1330.34 1309.65 L1330.86 1309.58 L1331.37 1309.51 L1331.89 1309.43 L1332.4 1309.36 L1332.91 1309.28 L1333.43 1309.19 L1333.94 1309.1 L1334.46 1308.99 L1334.97 1308.88 L1335.49 1308.75 L1336 1308.6 L1336.5 1308.42 L1337 1308.19 L1337.5 1307.91 L1338 1307.58 L1338.5 1307.22 L1339 1306.83 L1339.5 1306.4 L1340 1305.96 L1340.5 1305.5 L1341.06 1304.96 L1341.61 1304.37 L1342.17 1303.7 L1342.73 1302.95 L1343.29 1302.1 L1343.84 1301.12 L1344.4 1300 L1344.9 1298.66 L1345.4 1296.86 L1345.9 1294.67 L1346.4 1292.2 L1346.9 1289.53 L1347.4 1286.76 L1347.9 1283.97 L1348.4 1281.25 L1348.9 1278.7 L1349.41 1276.21 L1349.93 1273.72 L1350.44 1271.22 L1350.95 1268.7 L1351.46 1266.15 L1351.97 1263.53 L1352.49 1260.86 L1353 1258.1 L1353.51 1255.24 L1354.03 1252.28 L1354.54 1249.24 L1355.05 1246.14 L1355.56 1242.99 L1356.07 1239.82 L1356.59 1236.65 L1357.1 1233.5 L1357.65 1230.03 L1358.2 1226.44 L1358.75 1222.83 L1359.3 1219.3 L1359.85 1215.95 L1360.4 1212.9 L1360.95 1210 L1361.5 1207.11 L1362.05 1204.36 L1362.6 1201.86 L1363.15 1199.74 L1363.7 1198.1 L1364.23 1196.8 L1364.76 1195.54 L1365.29 1194.39 L1365.81 1193.38 L1366.34 1192.6 L1366.87 1192.08 L1367.4 1191.9 L1367.93 1192.03 L1368.46 1192.4 L1368.99 1192.97 L1369.51 1193.69 L1370.04 1194.53 L1370.57 1195.45 L1371.1 1196.4 L1371.61 1197.53 L1372.12 1199.01 L1372.64 1200.77 L1373.15 1202.74 L1373.66 1204.85 L1374.17 1207.03 L1374.69 1209.2 L1375.2 1211.3 L1375.71 1213.37 L1376.22 1215.51 L1376.74 1217.71 L1377.25 1219.96 L1377.76 1222.26 L1378.28 1224.58 L1378.79 1226.93 L1379.3 1229.3 L1379.83 1231.82 L1380.35 1234.46 L1380.88 1237.18 L1381.4 1239.92 L1381.92 1242.62 L1382.45 1245.22 L1382.97 1247.66 L1383.5 1249.9 L1384.01 1251.92 L1384.53 1253.87 L1385.04 1255.75 L1385.55 1257.54 L1386.06 1259.25 L1386.57 1260.89 L1387.09 1262.44 L1387.6 1263.9 L1388.1 1265.28 L1388.6 1266.63 L1389.1 1267.96 L1389.6 1269.26 L1390.1 1270.52 L1390.6 1271.74 L1391.1 1272.91 L1391.6 1274.03 L1392.1 1275.1 L1392.6 1276.1 L1393.1 1277.04 L1393.6 1277.91 L1394.1 1278.7 L1394.62 1279.47 L1395.14 1280.2 L1395.66 1280.9 L1396.18 1281.58 L1396.71 1282.22 L1397.23 1282.85 L1397.75 1283.44 L1398.27 1284.02 L1398.79 1284.57 L1399.31 1285.11 L1399.83 1285.63 L1400.35 1286.14 L1400.87 1286.63 L1401.39 1287.11 L1401.92 1287.58 L1402.44 1288.04 L1402.96 1288.5 L1403.48 1288.95 L1404 1289.4 L1404.5 1289.83 L1405 1290.25 L1405.5 1290.67 L1406 1291.08 L1406.5 1291.48 L1407 1291.88 L1407.5 1292.28 L1408 1292.67 L1408.5 1293.05 L1409 1293.43 L1409.5 1293.8 L1410 1294.17 L1410.5 1294.53 L1411 1294.88 L1411.5 1295.23 L1412 1295.57 L1412.5 1295.91 L1413 1296.24 L1413.5 1296.56 L1414 1296.88 L1414.5 1297.19 L1415 1297.5 L1415.5 1297.8 L1416 1298.09 L1416.5 1298.38 L1417 1298.66 L1417.5 1298.93 L1418 1299.2 L1418.51 1299.47 L1419.03 1299.74 L1419.54 1300 L1420.06 1300.27 L1420.57 1300.53 L1421.08 1300.79 L1421.6 1301.04 L1422.11 1301.29 L1422.62 1301.54 L1423.14 1301.78 L1423.65 1302.03 L1424.17 1302.26 L1424.68 1302.49 L1425.19 1302.72 L1425.71 1302.95 L1426.22 1303.16 L1426.73 1303.38 L1427.25 1303.59 L1427.76 1303.79 L1428.28 1303.99 L1428.79 1304.18 L1429.3 1304.37 L1429.82 1304.55 L1430.33 1304.72 L1430.84 1304.89 L1431.36 1305.05 L1431.87 1305.21 L1432.39 1305.36 L1432.9 1305.5 L1433.4 1305.63 L1433.9 1305.77 L1434.4 1305.9 L1434.9 1306.03 L1435.4 1306.16 L1435.9 1306.29 L1436.4 1306.42 L1436.9 1306.55 L1437.4 1306.68 L1437.9 1306.8 L1438.4 1306.93 L1438.9 1307.05 L1439.4 1307.17 L1439.9 1307.29 L1440.4 1307.41 L1440.9 1307.52 L1441.4 1307.64 L1441.9 1307.75 L1442.4 1307.86 L1442.9 1307.96 L1443.4 1308.07 L1443.9 1308.17 L1444.4 1308.27 L1444.9 1308.36 L1445.4 1308.46 L1445.9 1308.55 L1446.4 1308.63 L1446.9 1308.72 L1447.4 1308.8 L1447.9 1308.88 L1448.4 1308.95 L1448.9 1309.02 L1449.4 1309.09 L1449.9 1309.15 L1450.4 1309.21 L1450.9 1309.26 L1451.4 1309.31 L1451.9 1309.36 L1452.4 1309.4 L1452.9 1309.44 L1453.4 1309.47 L1453.9 1309.5 L1454.4 1309.53 L1454.91 1309.55 L1455.41 1309.58 L1455.92 1309.6 L1456.42 1309.62 L1456.93 1309.65 L1457.43 1309.67 L1457.93 1309.69 L1458.44 1309.71 L1458.94 1309.73 L1459.45 1309.75 L1459.95 1309.77 L1460.45 1309.79 L1460.96 1309.81 L1461.46 1309.82 L1461.97 1309.84 L1462.47 1309.86 L1462.98 1309.88 L1463.48 1309.89 L1463.98 1309.91 L1464.49 1309.92 L1464.99 1309.94 L1465.5 1309.95 L1466 1309.97 L1466.51 1309.98 L1467.01 1309.99 L1467.51 1310.01 L1468.02 1310.02 L1468.52 1310.03 L1469.03 1310.04 L1469.53 1310.06 L1470.04 1310.07 L1470.54 1310.08 L1471.04 1310.09 L1471.55 1310.1 L1472.05 1310.11 L1472.56 1310.12 L1473.06 1310.14 L1473.56 1310.15 L1474.07 1310.16 L1474.57 1310.17 L1475.08 1310.18 L1475.58 1310.19 L1476.09 1310.2 L1476.59 1310.21 L1477.09 1310.22 L1477.6 1310.23 L1478.1 1310.24 L1478.61 1310.25 L1479.11 1310.26 L1479.62 1310.27 L1480.12 1310.28 L1480.62 1310.29 L1481.13 1310.3 L1481.63 1310.31 L1482.14 1310.32 L1482.64 1310.33 L1483.15 1310.34 L1483.65 1310.35 L1484.15 1310.36 L1484.66 1310.37 L1485.16 1310.39 L1485.67 1310.4 L1486.17 1310.41 L1486.67 1310.42 L1487.18 1310.43 L1487.68 1310.45 L1488.19 1310.46 L1488.69 1310.47 L1489.2 1310.49 L1489.7 1310.5" fill="none" stroke="#ea2030" stroke-width="1.5" stroke-linejoin="round" stroke-linecap="butt" stroke-miterlimit="10"/>
<text x="1246.5" y="1179.6" font-size="26.7" fill="#111" text-anchor="middle" style="font-family:&quot;Liberation Serif&quot;,serif" textLength="47.6" lengthAdjust="spacingAndGlyphs">50%</text>
<text x="1373" y="1179.6" font-size="26.7" fill="#111" text-anchor="middle" style="font-family:&quot;Liberation Serif&quot;,serif" textLength="47.6" lengthAdjust="spacingAndGlyphs">50%</text>
</svg>
</body></html>
